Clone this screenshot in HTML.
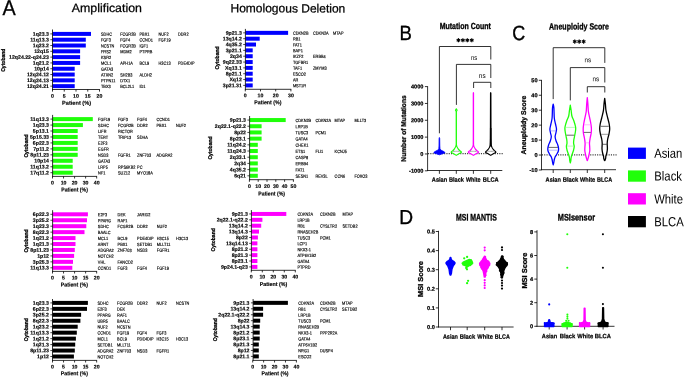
<!DOCTYPE html>
<html><head><meta charset="utf-8"><style>
html,body{margin:0;padding:0;background:#fff;overflow:hidden;width:685px;height:377px;}
svg{display:block;will-change:transform;text-rendering:geometricPrecision;}
text{font-family:"Liberation Sans", sans-serif;}
text[font-weight="bold"]{stroke:#000;stroke-width:0.22px;}
.A text{stroke:#000;stroke-width:0.15px;}
.A .g{stroke:#000;stroke-width:0.16px;}
text.r{stroke:#000;stroke-width:0.28px;}
text.t{stroke:#000;stroke-width:0.32px;}
</style></head><body>
<svg width="685" height="377" viewBox="0 0 685 377">
<rect width="685" height="377" fill="#fff"/>
<text transform="translate(2.4,14.6) scale(0.93,1)" font-size="21.3" stroke="#000" stroke-width="0.3">A</text>
<text transform="translate(71.8,12) matrix(1,0.0015,0,1,0,0)" font-size="12" text-anchor="start" fill="#000" textLength="70.1" lengthAdjust="spacingAndGlyphs" stroke="#000" stroke-width="0.25">Amplification</text>
<text transform="translate(230.5,12.3) matrix(1,0.0015,0,1,0,0)" font-size="12" text-anchor="start" fill="#000" textLength="114.8" lengthAdjust="spacingAndGlyphs" stroke="#000" stroke-width="0.25">Homologous Deletion</text>
<g class="A">
<rect x="52.5" y="31.9" width="38.5" height="4" fill="#0000ff"/>
<rect x="52.5" y="37.71" width="33.3" height="4" fill="#0000ff"/>
<rect x="52.5" y="43.51" width="33.3" height="4" fill="#0000ff"/>
<rect x="52.5" y="49.32" width="27.6" height="4" fill="#0000ff"/>
<rect x="52.5" y="55.12" width="27.6" height="4" fill="#0000ff"/>
<rect x="52.5" y="60.93" width="27.6" height="4" fill="#0000ff"/>
<rect x="52.5" y="66.74" width="22.2" height="4" fill="#0000ff"/>
<rect x="52.5" y="72.54" width="22.2" height="4" fill="#0000ff"/>
<rect x="52.5" y="78.35" width="22.2" height="4" fill="#0000ff"/>
<rect x="52.5" y="84.15" width="22.2" height="4" fill="#0000ff"/>
<line x1="52.5" y1="29.5" x2="52.5" y2="89.9" stroke="#000" stroke-width="0.8"/>
<line x1="52.1" y1="89.5" x2="99.9" y2="89.5" stroke="#000" stroke-width="0.8"/>
<line x1="52.5" y1="89.5" x2="52.5" y2="91.6" stroke="#000" stroke-width="0.8"/>
<text transform="translate(52.5,97.8) matrix(1,0.0015,0,1,0,0)" font-size="5.2" font-weight="bold" text-anchor="middle" fill="#000">0</text>
<line x1="64.25" y1="89.5" x2="64.25" y2="91.6" stroke="#000" stroke-width="0.8"/>
<text transform="translate(64.25,97.8) matrix(1,0.0015,0,1,0,0)" font-size="5.2" font-weight="bold" text-anchor="middle" fill="#000">5</text>
<line x1="76" y1="89.5" x2="76" y2="91.6" stroke="#000" stroke-width="0.8"/>
<text transform="translate(76,97.8) matrix(1,0.0015,0,1,0,0)" font-size="5.2" font-weight="bold" text-anchor="middle" fill="#000">10</text>
<line x1="87.75" y1="89.5" x2="87.75" y2="91.6" stroke="#000" stroke-width="0.8"/>
<text transform="translate(87.75,97.8) matrix(1,0.0015,0,1,0,0)" font-size="5.2" font-weight="bold" text-anchor="middle" fill="#000">15</text>
<line x1="99.5" y1="89.5" x2="99.5" y2="91.6" stroke="#000" stroke-width="0.8"/>
<text transform="translate(99.5,97.8) matrix(1,0.0015,0,1,0,0)" font-size="5.2" font-weight="bold" text-anchor="middle" fill="#000">20</text>
<line x1="50.3" y1="33.9" x2="52.5" y2="33.9" stroke="#000" stroke-width="0.7"/>
<text transform="translate(48.9,35.7) matrix(1,0.0015,0,1,0,0)" font-size="5.2" font-weight="bold" text-anchor="end" fill="#000">1q23.3</text>
<line x1="50.3" y1="39.71" x2="52.5" y2="39.71" stroke="#000" stroke-width="0.7"/>
<text transform="translate(48.9,41.51) matrix(1,0.0015,0,1,0,0)" font-size="5.2" font-weight="bold" text-anchor="end" fill="#000">11q13.3</text>
<line x1="50.3" y1="45.51" x2="52.5" y2="45.51" stroke="#000" stroke-width="0.7"/>
<text transform="translate(48.9,47.31) matrix(1,0.0015,0,1,0,0)" font-size="5.2" font-weight="bold" text-anchor="end" fill="#000">1q23.2</text>
<line x1="50.3" y1="51.32" x2="52.5" y2="51.32" stroke="#000" stroke-width="0.7"/>
<text transform="translate(48.9,53.12) matrix(1,0.0015,0,1,0,0)" font-size="5.2" font-weight="bold" text-anchor="end" fill="#000">12q15</text>
<line x1="50.3" y1="57.12" x2="52.5" y2="57.12" stroke="#000" stroke-width="0.7"/>
<text transform="translate(48.9,58.92) matrix(1,0.0015,0,1,0,0)" font-size="5.2" font-weight="bold" text-anchor="end" fill="#000">12q24.22-q24.23</text>
<line x1="50.3" y1="62.93" x2="52.5" y2="62.93" stroke="#000" stroke-width="0.7"/>
<text transform="translate(48.9,64.73) matrix(1,0.0015,0,1,0,0)" font-size="5.2" font-weight="bold" text-anchor="end" fill="#000">1q21.2</text>
<line x1="50.3" y1="68.74" x2="52.5" y2="68.74" stroke="#000" stroke-width="0.7"/>
<text transform="translate(48.9,70.54) matrix(1,0.0015,0,1,0,0)" font-size="5.2" font-weight="bold" text-anchor="end" fill="#000">10p14</text>
<line x1="50.3" y1="74.54" x2="52.5" y2="74.54" stroke="#000" stroke-width="0.7"/>
<text transform="translate(48.9,76.34) matrix(1,0.0015,0,1,0,0)" font-size="5.2" font-weight="bold" text-anchor="end" fill="#000">12q24.12</text>
<line x1="50.3" y1="80.35" x2="52.5" y2="80.35" stroke="#000" stroke-width="0.7"/>
<text transform="translate(48.9,82.15) matrix(1,0.0015,0,1,0,0)" font-size="5.2" font-weight="bold" text-anchor="end" fill="#000">12q24.13</text>
<line x1="50.3" y1="86.15" x2="52.5" y2="86.15" stroke="#000" stroke-width="0.7"/>
<text transform="translate(48.9,87.95) matrix(1,0.0015,0,1,0,0)" font-size="5.2" font-weight="bold" text-anchor="end" fill="#000">12q24.21</text>
<text transform="translate(76.55,104.8) matrix(1,0.0015,0,1,0,0)" font-size="5.6" font-weight="bold" text-anchor="middle" fill="#000" textLength="28.9" lengthAdjust="spacingAndGlyphs">Patient (%)</text>
<text transform="translate(2.8,60.2) rotate(-90)" x="0" y="1.98" font-size="5.5" font-weight="bold" text-anchor="middle" textLength="23.2" lengthAdjust="spacingAndGlyphs" class="r">Cytoband</text>
<text transform="translate(101,35.8) matrix(1,0.0015,0,1,0,0) scale(0.86,1)" font-size="4.5" fill="#000" class="g">SDHC</text>
<text transform="translate(120.2,35.8) matrix(1,0.0015,0,1,0,0) scale(0.86,1)" font-size="4.5" fill="#000" class="g">FCGR2B</text>
<text transform="translate(139.5,35.8) matrix(1,0.0015,0,1,0,0) scale(0.86,1)" font-size="4.5" fill="#000" class="g">PBX1</text>
<text transform="translate(158.5,35.8) matrix(1,0.0015,0,1,0,0) scale(0.86,1)" font-size="4.5" fill="#000" class="g">NUF2</text>
<text transform="translate(178,35.8) matrix(1,0.0015,0,1,0,0) scale(0.86,1)" font-size="4.5" fill="#000" class="g">DDR2</text>
<text transform="translate(101,41.61) matrix(1,0.0015,0,1,0,0) scale(0.86,1)" font-size="4.5" fill="#000" class="g">FGF3</text>
<text transform="translate(120.2,41.61) matrix(1,0.0015,0,1,0,0) scale(0.86,1)" font-size="4.5" fill="#000" class="g">FGF4</text>
<text transform="translate(139.5,41.61) matrix(1,0.0015,0,1,0,0) scale(0.86,1)" font-size="4.5" fill="#000" class="g">CCND1</text>
<text transform="translate(158.5,41.61) matrix(1,0.0015,0,1,0,0) scale(0.86,1)" font-size="4.5" fill="#000" class="g">FGF19</text>
<text transform="translate(101,47.41) matrix(1,0.0015,0,1,0,0) scale(0.86,1)" font-size="4.5" fill="#000" class="g">NCSTN</text>
<text transform="translate(120.2,47.41) matrix(1,0.0015,0,1,0,0) scale(0.86,1)" font-size="4.5" fill="#000" class="g">FCGR2B</text>
<text transform="translate(139.5,47.41) matrix(1,0.0015,0,1,0,0) scale(0.86,1)" font-size="4.5" fill="#000" class="g">IGF1</text>
<text transform="translate(101,53.22) matrix(1,0.0015,0,1,0,0) scale(0.86,1)" font-size="4.5" fill="#000" class="g">FRS2</text>
<text transform="translate(120.2,53.22) matrix(1,0.0015,0,1,0,0) scale(0.86,1)" font-size="4.5" fill="#000" class="g">MDM2</text>
<text transform="translate(139.5,53.22) matrix(1,0.0015,0,1,0,0) scale(0.86,1)" font-size="4.5" fill="#000" class="g">PTPRB</text>
<text transform="translate(101,59.02) matrix(1,0.0015,0,1,0,0) scale(0.86,1)" font-size="4.5" fill="#000" class="g">KSR2</text>
<text transform="translate(101,64.83) matrix(1,0.0015,0,1,0,0) scale(0.86,1)" font-size="4.5" fill="#000" class="g">MCL1</text>
<text transform="translate(120.2,64.83) matrix(1,0.0015,0,1,0,0) scale(0.86,1)" font-size="4.5" fill="#000" class="g">APH1A</text>
<text transform="translate(139.5,64.83) matrix(1,0.0015,0,1,0,0) scale(0.86,1)" font-size="4.5" fill="#000" class="g">BCL9</text>
<text transform="translate(158.5,64.83) matrix(1,0.0015,0,1,0,0) scale(0.86,1)" font-size="4.5" fill="#000" class="g">H3C13</text>
<text transform="translate(178,64.83) matrix(1,0.0015,0,1,0,0) scale(0.86,1)" font-size="4.5" fill="#000" class="g">PDE4DIP</text>
<text transform="translate(101,70.64) matrix(1,0.0015,0,1,0,0) scale(0.86,1)" font-size="4.5" fill="#000" class="g">GATA3</text>
<text transform="translate(101,76.44) matrix(1,0.0015,0,1,0,0) scale(0.86,1)" font-size="4.5" fill="#000" class="g">ATXN2</text>
<text transform="translate(120.2,76.44) matrix(1,0.0015,0,1,0,0) scale(0.86,1)" font-size="4.5" fill="#000" class="g">SH2B3</text>
<text transform="translate(139.5,76.44) matrix(1,0.0015,0,1,0,0) scale(0.86,1)" font-size="4.5" fill="#000" class="g">ALDH2</text>
<text transform="translate(101,82.25) matrix(1,0.0015,0,1,0,0) scale(0.86,1)" font-size="4.5" fill="#000" class="g">PTPN11</text>
<text transform="translate(120.2,82.25) matrix(1,0.0015,0,1,0,0) scale(0.86,1)" font-size="4.5" fill="#000" class="g">DTX1</text>
<text transform="translate(101,88.05) matrix(1,0.0015,0,1,0,0) scale(0.86,1)" font-size="4.5" fill="#000" class="g">TBX3</text>
<text transform="translate(120.2,88.05) matrix(1,0.0015,0,1,0,0) scale(0.86,1)" font-size="4.5" fill="#000" class="g">BCL2L1</text>
<text transform="translate(139.5,88.05) matrix(1,0.0015,0,1,0,0) scale(0.86,1)" font-size="4.5" fill="#000" class="g">ID1</text>
</g>
<g class="A">
<rect x="245.4" y="30.85" width="42.7" height="4" fill="#0000ff"/>
<rect x="245.4" y="36.69" width="14.3" height="4" fill="#0000ff"/>
<rect x="245.4" y="42.53" width="10.6" height="4" fill="#0000ff"/>
<rect x="245.4" y="48.37" width="7.3" height="4" fill="#0000ff"/>
<rect x="245.4" y="54.21" width="7.3" height="4" fill="#0000ff"/>
<rect x="245.4" y="60.05" width="7.3" height="4" fill="#0000ff"/>
<rect x="245.4" y="65.88" width="7.3" height="4" fill="#0000ff"/>
<rect x="245.4" y="71.72" width="7.3" height="4" fill="#0000ff"/>
<rect x="245.4" y="77.56" width="7.3" height="4" fill="#0000ff"/>
<rect x="245.4" y="83.4" width="7.3" height="4" fill="#0000ff"/>
<line x1="245.4" y1="28.9" x2="245.4" y2="89.7" stroke="#000" stroke-width="0.8"/>
<line x1="245" y1="89.3" x2="291.3" y2="89.3" stroke="#000" stroke-width="0.8"/>
<line x1="245.3" y1="89.3" x2="245.3" y2="91.4" stroke="#000" stroke-width="0.8"/>
<text transform="translate(245.3,97.2) matrix(1,0.0015,0,1,0,0)" font-size="5.2" font-weight="bold" text-anchor="middle" fill="#000">0</text>
<line x1="260.5" y1="89.3" x2="260.5" y2="91.4" stroke="#000" stroke-width="0.8"/>
<text transform="translate(260.5,97.2) matrix(1,0.0015,0,1,0,0)" font-size="5.2" font-weight="bold" text-anchor="middle" fill="#000">10</text>
<line x1="275.7" y1="89.3" x2="275.7" y2="91.4" stroke="#000" stroke-width="0.8"/>
<text transform="translate(275.7,97.2) matrix(1,0.0015,0,1,0,0)" font-size="5.2" font-weight="bold" text-anchor="middle" fill="#000">20</text>
<line x1="290.9" y1="89.3" x2="290.9" y2="91.4" stroke="#000" stroke-width="0.8"/>
<text transform="translate(290.9,97.2) matrix(1,0.0015,0,1,0,0)" font-size="5.2" font-weight="bold" text-anchor="middle" fill="#000">30</text>
<line x1="243.2" y1="32.85" x2="245.4" y2="32.85" stroke="#000" stroke-width="0.7"/>
<text transform="translate(241.8,34.65) matrix(1,0.0015,0,1,0,0)" font-size="5.2" font-weight="bold" text-anchor="end" fill="#000">9p21.3</text>
<line x1="243.2" y1="38.69" x2="245.4" y2="38.69" stroke="#000" stroke-width="0.7"/>
<text transform="translate(241.8,40.49) matrix(1,0.0015,0,1,0,0)" font-size="5.2" font-weight="bold" text-anchor="end" fill="#000">13q14.2</text>
<line x1="243.2" y1="44.53" x2="245.4" y2="44.53" stroke="#000" stroke-width="0.7"/>
<text transform="translate(241.8,46.33) matrix(1,0.0015,0,1,0,0)" font-size="5.2" font-weight="bold" text-anchor="end" fill="#000">4q35.2</text>
<line x1="243.2" y1="50.37" x2="245.4" y2="50.37" stroke="#000" stroke-width="0.7"/>
<text transform="translate(241.8,52.17) matrix(1,0.0015,0,1,0,0)" font-size="5.2" font-weight="bold" text-anchor="end" fill="#000">3p21.1</text>
<line x1="243.2" y1="56.21" x2="245.4" y2="56.21" stroke="#000" stroke-width="0.7"/>
<text transform="translate(241.8,58.01) matrix(1,0.0015,0,1,0,0)" font-size="5.2" font-weight="bold" text-anchor="end" fill="#000">2q34</text>
<line x1="243.2" y1="62.05" x2="245.4" y2="62.05" stroke="#000" stroke-width="0.7"/>
<text transform="translate(241.8,63.84) matrix(1,0.0015,0,1,0,0)" font-size="5.2" font-weight="bold" text-anchor="end" fill="#000">9q22.33</text>
<line x1="243.2" y1="67.88" x2="245.4" y2="67.88" stroke="#000" stroke-width="0.7"/>
<text transform="translate(241.8,69.68) matrix(1,0.0015,0,1,0,0)" font-size="5.2" font-weight="bold" text-anchor="end" fill="#000">Xq13.1</text>
<line x1="243.2" y1="73.72" x2="245.4" y2="73.72" stroke="#000" stroke-width="0.7"/>
<text transform="translate(241.8,75.52) matrix(1,0.0015,0,1,0,0)" font-size="5.2" font-weight="bold" text-anchor="end" fill="#000">8p21.1</text>
<line x1="243.2" y1="79.56" x2="245.4" y2="79.56" stroke="#000" stroke-width="0.7"/>
<text transform="translate(241.8,81.36) matrix(1,0.0015,0,1,0,0)" font-size="5.2" font-weight="bold" text-anchor="end" fill="#000">Xq12</text>
<line x1="243.2" y1="85.4" x2="245.4" y2="85.4" stroke="#000" stroke-width="0.7"/>
<text transform="translate(241.8,87.2) matrix(1,0.0015,0,1,0,0)" font-size="5.2" font-weight="bold" text-anchor="end" fill="#000">3p21.31</text>
<text transform="translate(267.85,104.3) matrix(1,0.0015,0,1,0,0)" font-size="5.6" font-weight="bold" text-anchor="middle" fill="#000" textLength="27.3" lengthAdjust="spacingAndGlyphs">Patient (%)</text>
<text transform="translate(216.6,58) rotate(-90)" x="0" y="1.98" font-size="5.5" font-weight="bold" text-anchor="middle" textLength="23.2" lengthAdjust="spacingAndGlyphs" class="r">Cytoband</text>
<text transform="translate(292.9,34.75) matrix(1,0.0015,0,1,0,0) scale(0.86,1)" font-size="4.5" fill="#000" class="g">CDKN2B</text>
<text transform="translate(313,34.75) matrix(1,0.0015,0,1,0,0) scale(0.86,1)" font-size="4.5" fill="#000" class="g">CDKN2A</text>
<text transform="translate(333,34.75) matrix(1,0.0015,0,1,0,0) scale(0.86,1)" font-size="4.5" fill="#000" class="g">MTAP</text>
<text transform="translate(292.9,40.59) matrix(1,0.0015,0,1,0,0) scale(0.86,1)" font-size="4.5" fill="#000" class="g">RB1</text>
<text transform="translate(292.9,46.43) matrix(1,0.0015,0,1,0,0) scale(0.86,1)" font-size="4.5" fill="#000" class="g">FAT1</text>
<text transform="translate(292.9,52.27) matrix(1,0.0015,0,1,0,0) scale(0.86,1)" font-size="4.5" fill="#000" class="g">BAP1</text>
<text transform="translate(292.9,58.11) matrix(1,0.0015,0,1,0,0) scale(0.86,1)" font-size="4.5" fill="#000" class="g">IKZF2</text>
<text transform="translate(313,58.11) matrix(1,0.0015,0,1,0,0) scale(0.86,1)" font-size="4.5" fill="#000" class="g">ERBB4</text>
<text transform="translate(292.9,63.95) matrix(1,0.0015,0,1,0,0) scale(0.86,1)" font-size="4.5" fill="#000" class="g">TGFBR1</text>
<text transform="translate(292.9,69.78) matrix(1,0.0015,0,1,0,0) scale(0.86,1)" font-size="4.5" fill="#000" class="g">TAF1</text>
<text transform="translate(313,69.78) matrix(1,0.0015,0,1,0,0) scale(0.86,1)" font-size="4.5" fill="#000" class="g">ZMYM3</text>
<text transform="translate(292.9,75.62) matrix(1,0.0015,0,1,0,0) scale(0.86,1)" font-size="4.5" fill="#000" class="g">ESCO2</text>
<text transform="translate(292.9,81.46) matrix(1,0.0015,0,1,0,0) scale(0.86,1)" font-size="4.5" fill="#000" class="g">AR</text>
<text transform="translate(292.9,87.3) matrix(1,0.0015,0,1,0,0) scale(0.86,1)" font-size="4.5" fill="#000" class="g">MST1R</text>
</g>
<g class="A">
<rect x="52.6" y="117.1" width="40.2" height="4" fill="#20ff0a"/>
<rect x="52.6" y="123.06" width="30.3" height="4" fill="#20ff0a"/>
<rect x="52.6" y="129.01" width="25.1" height="4" fill="#20ff0a"/>
<rect x="52.6" y="134.97" width="25.1" height="4" fill="#20ff0a"/>
<rect x="52.6" y="140.92" width="25.1" height="4" fill="#20ff0a"/>
<rect x="52.6" y="146.88" width="25.1" height="4" fill="#20ff0a"/>
<rect x="52.6" y="152.84" width="25.1" height="4" fill="#20ff0a"/>
<rect x="52.6" y="158.79" width="20.1" height="4" fill="#20ff0a"/>
<rect x="52.6" y="164.75" width="20.1" height="4" fill="#20ff0a"/>
<rect x="52.6" y="170.7" width="20.1" height="4" fill="#20ff0a"/>
<line x1="52.6" y1="114.9" x2="52.6" y2="176.8" stroke="#000" stroke-width="0.8"/>
<line x1="52.2" y1="176.4" x2="97.06" y2="176.4" stroke="#000" stroke-width="0.8"/>
<line x1="52.5" y1="176.4" x2="52.5" y2="178.5" stroke="#000" stroke-width="0.8"/>
<text transform="translate(52.5,184.6) matrix(1,0.0015,0,1,0,0)" font-size="5.2" font-weight="bold" text-anchor="middle" fill="#000">0</text>
<line x1="63.54" y1="176.4" x2="63.54" y2="178.5" stroke="#000" stroke-width="0.8"/>
<text transform="translate(63.54,184.6) matrix(1,0.0015,0,1,0,0)" font-size="5.2" font-weight="bold" text-anchor="middle" fill="#000">10</text>
<line x1="74.58" y1="176.4" x2="74.58" y2="178.5" stroke="#000" stroke-width="0.8"/>
<text transform="translate(74.58,184.6) matrix(1,0.0015,0,1,0,0)" font-size="5.2" font-weight="bold" text-anchor="middle" fill="#000">20</text>
<line x1="85.62" y1="176.4" x2="85.62" y2="178.5" stroke="#000" stroke-width="0.8"/>
<text transform="translate(85.62,184.6) matrix(1,0.0015,0,1,0,0)" font-size="5.2" font-weight="bold" text-anchor="middle" fill="#000">30</text>
<line x1="96.66" y1="176.4" x2="96.66" y2="178.5" stroke="#000" stroke-width="0.8"/>
<text transform="translate(96.66,184.6) matrix(1,0.0015,0,1,0,0)" font-size="5.2" font-weight="bold" text-anchor="middle" fill="#000">40</text>
<line x1="50.4" y1="119.1" x2="52.6" y2="119.1" stroke="#000" stroke-width="0.7"/>
<text transform="translate(49,120.9) matrix(1,0.0015,0,1,0,0)" font-size="5.2" font-weight="bold" text-anchor="end" fill="#000">11q13.3</text>
<line x1="50.4" y1="125.06" x2="52.6" y2="125.06" stroke="#000" stroke-width="0.7"/>
<text transform="translate(49,126.86) matrix(1,0.0015,0,1,0,0)" font-size="5.2" font-weight="bold" text-anchor="end" fill="#000">1q23.3</text>
<line x1="50.4" y1="131.01" x2="52.6" y2="131.01" stroke="#000" stroke-width="0.7"/>
<text transform="translate(49,132.81) matrix(1,0.0015,0,1,0,0)" font-size="5.2" font-weight="bold" text-anchor="end" fill="#000">5p13.1</text>
<line x1="50.4" y1="136.97" x2="52.6" y2="136.97" stroke="#000" stroke-width="0.7"/>
<text transform="translate(49,138.77) matrix(1,0.0015,0,1,0,0)" font-size="5.2" font-weight="bold" text-anchor="end" fill="#000">5p15.33</text>
<line x1="50.4" y1="142.92" x2="52.6" y2="142.92" stroke="#000" stroke-width="0.7"/>
<text transform="translate(49,144.72) matrix(1,0.0015,0,1,0,0)" font-size="5.2" font-weight="bold" text-anchor="end" fill="#000">6p22.3</text>
<line x1="50.4" y1="148.88" x2="52.6" y2="148.88" stroke="#000" stroke-width="0.7"/>
<text transform="translate(49,150.68) matrix(1,0.0015,0,1,0,0)" font-size="5.2" font-weight="bold" text-anchor="end" fill="#000">7p11.2</text>
<line x1="50.4" y1="154.84" x2="52.6" y2="154.84" stroke="#000" stroke-width="0.7"/>
<text transform="translate(49,156.64) matrix(1,0.0015,0,1,0,0)" font-size="5.2" font-weight="bold" text-anchor="end" fill="#000">8p11.23</text>
<line x1="50.4" y1="160.79" x2="52.6" y2="160.79" stroke="#000" stroke-width="0.7"/>
<text transform="translate(49,162.59) matrix(1,0.0015,0,1,0,0)" font-size="5.2" font-weight="bold" text-anchor="end" fill="#000">10p14</text>
<line x1="50.4" y1="166.75" x2="52.6" y2="166.75" stroke="#000" stroke-width="0.7"/>
<text transform="translate(49,168.55) matrix(1,0.0015,0,1,0,0)" font-size="5.2" font-weight="bold" text-anchor="end" fill="#000">11q13.2</text>
<line x1="50.4" y1="172.7" x2="52.6" y2="172.7" stroke="#000" stroke-width="0.7"/>
<text transform="translate(49,174.5) matrix(1,0.0015,0,1,0,0)" font-size="5.2" font-weight="bold" text-anchor="end" fill="#000">17q11.2</text>
<text transform="translate(74.55,191.6) matrix(1,0.0015,0,1,0,0)" font-size="5.6" font-weight="bold" text-anchor="middle" fill="#000" textLength="26.7" lengthAdjust="spacingAndGlyphs">Patient (%)</text>
<text transform="translate(25.7,146) rotate(-90)" x="0" y="1.98" font-size="5.5" font-weight="bold" text-anchor="middle" textLength="23.2" lengthAdjust="spacingAndGlyphs" class="r">Cytoband</text>
<text transform="translate(98.1,121) matrix(1,0.0015,0,1,0,0) scale(0.86,1)" font-size="4.5" fill="#000" class="g">FGF19</text>
<text transform="translate(118,121) matrix(1,0.0015,0,1,0,0) scale(0.86,1)" font-size="4.5" fill="#000" class="g">FGF3</text>
<text transform="translate(137.1,121) matrix(1,0.0015,0,1,0,0) scale(0.86,1)" font-size="4.5" fill="#000" class="g">FGF4</text>
<text transform="translate(156.5,121) matrix(1,0.0015,0,1,0,0) scale(0.86,1)" font-size="4.5" fill="#000" class="g">CCND1</text>
<text transform="translate(98.1,126.96) matrix(1,0.0015,0,1,0,0) scale(0.86,1)" font-size="4.5" fill="#000" class="g">SDHC</text>
<text transform="translate(118,126.96) matrix(1,0.0015,0,1,0,0) scale(0.86,1)" font-size="4.5" fill="#000" class="g">FCGR2B</text>
<text transform="translate(137.1,126.96) matrix(1,0.0015,0,1,0,0) scale(0.86,1)" font-size="4.5" fill="#000" class="g">DDR2</text>
<text transform="translate(156.5,126.96) matrix(1,0.0015,0,1,0,0) scale(0.86,1)" font-size="4.5" fill="#000" class="g">PBX1</text>
<text transform="translate(175.9,126.96) matrix(1,0.0015,0,1,0,0) scale(0.86,1)" font-size="4.5" fill="#000" class="g">NUF2</text>
<text transform="translate(98.1,132.91) matrix(1,0.0015,0,1,0,0) scale(0.86,1)" font-size="4.5" fill="#000" class="g">LIFR</text>
<text transform="translate(118,132.91) matrix(1,0.0015,0,1,0,0) scale(0.86,1)" font-size="4.5" fill="#000" class="g">RICTOR</text>
<text transform="translate(98.1,138.87) matrix(1,0.0015,0,1,0,0) scale(0.86,1)" font-size="4.5" fill="#000" class="g">TERT</text>
<text transform="translate(118,138.87) matrix(1,0.0015,0,1,0,0) scale(0.86,1)" font-size="4.5" fill="#000" class="g">TRIP13</text>
<text transform="translate(137.1,138.87) matrix(1,0.0015,0,1,0,0) scale(0.86,1)" font-size="4.5" fill="#000" class="g">SDHA</text>
<text transform="translate(98.1,144.82) matrix(1,0.0015,0,1,0,0) scale(0.86,1)" font-size="4.5" fill="#000" class="g">E2F3</text>
<text transform="translate(98.1,150.78) matrix(1,0.0015,0,1,0,0) scale(0.86,1)" font-size="4.5" fill="#000" class="g">EGFR</text>
<text transform="translate(98.1,156.74) matrix(1,0.0015,0,1,0,0) scale(0.86,1)" font-size="4.5" fill="#000" class="g">NSD3</text>
<text transform="translate(118,156.74) matrix(1,0.0015,0,1,0,0) scale(0.86,1)" font-size="4.5" fill="#000" class="g">FGFR1</text>
<text transform="translate(137.1,156.74) matrix(1,0.0015,0,1,0,0) scale(0.86,1)" font-size="4.5" fill="#000" class="g">ZNF703</text>
<text transform="translate(156.5,156.74) matrix(1,0.0015,0,1,0,0) scale(0.86,1)" font-size="4.5" fill="#000" class="g">ADGRA2</text>
<text transform="translate(98.1,162.69) matrix(1,0.0015,0,1,0,0) scale(0.86,1)" font-size="4.5" fill="#000" class="g">GATA3</text>
<text transform="translate(98.1,168.65) matrix(1,0.0015,0,1,0,0) scale(0.86,1)" font-size="4.5" fill="#000" class="g">LRP5</text>
<text transform="translate(118,168.65) matrix(1,0.0015,0,1,0,0) scale(0.86,1)" font-size="4.5" fill="#000" class="g">RPS6KB2</text>
<text transform="translate(137.1,168.65) matrix(1,0.0015,0,1,0,0) scale(0.86,1)" font-size="4.5" fill="#000" class="g">PC</text>
<text transform="translate(98.1,174.6) matrix(1,0.0015,0,1,0,0) scale(0.86,1)" font-size="4.5" fill="#000" class="g">NF1</text>
<text transform="translate(118,174.6) matrix(1,0.0015,0,1,0,0) scale(0.86,1)" font-size="4.5" fill="#000" class="g">SUZ12</text>
<text transform="translate(137.1,174.6) matrix(1,0.0015,0,1,0,0) scale(0.86,1)" font-size="4.5" fill="#000" class="g">MYO18A</text>
</g>
<g class="A">
<rect x="249.6" y="118.05" width="36.1" height="4" fill="#20ff0a"/>
<rect x="249.6" y="124.24" width="12" height="4" fill="#20ff0a"/>
<rect x="249.6" y="130.44" width="12" height="4" fill="#20ff0a"/>
<rect x="249.6" y="136.63" width="12" height="4" fill="#20ff0a"/>
<rect x="249.6" y="142.83" width="8.2" height="4" fill="#20ff0a"/>
<rect x="249.6" y="149.02" width="8.2" height="4" fill="#20ff0a"/>
<rect x="249.6" y="155.21" width="8.2" height="4" fill="#20ff0a"/>
<rect x="249.6" y="161.41" width="8.2" height="4" fill="#20ff0a"/>
<rect x="249.6" y="167.6" width="8.2" height="4" fill="#20ff0a"/>
<rect x="249.6" y="173.8" width="8.2" height="4" fill="#20ff0a"/>
<line x1="249.6" y1="116" x2="249.6" y2="180.1" stroke="#000" stroke-width="0.8"/>
<line x1="249.2" y1="179.7" x2="293.8" y2="179.7" stroke="#000" stroke-width="0.8"/>
<line x1="249.4" y1="179.7" x2="249.4" y2="181.8" stroke="#000" stroke-width="0.8"/>
<text transform="translate(249.4,188) matrix(1,0.0015,0,1,0,0)" font-size="5.2" font-weight="bold" text-anchor="middle" fill="#000">0</text>
<line x1="258.2" y1="179.7" x2="258.2" y2="181.8" stroke="#000" stroke-width="0.8"/>
<text transform="translate(258.2,188) matrix(1,0.0015,0,1,0,0)" font-size="5.2" font-weight="bold" text-anchor="middle" fill="#000">10</text>
<line x1="267" y1="179.7" x2="267" y2="181.8" stroke="#000" stroke-width="0.8"/>
<text transform="translate(267,188) matrix(1,0.0015,0,1,0,0)" font-size="5.2" font-weight="bold" text-anchor="middle" fill="#000">20</text>
<line x1="275.8" y1="179.7" x2="275.8" y2="181.8" stroke="#000" stroke-width="0.8"/>
<text transform="translate(275.8,188) matrix(1,0.0015,0,1,0,0)" font-size="5.2" font-weight="bold" text-anchor="middle" fill="#000">30</text>
<line x1="284.6" y1="179.7" x2="284.6" y2="181.8" stroke="#000" stroke-width="0.8"/>
<text transform="translate(284.6,188) matrix(1,0.0015,0,1,0,0)" font-size="5.2" font-weight="bold" text-anchor="middle" fill="#000">40</text>
<line x1="293.4" y1="179.7" x2="293.4" y2="181.8" stroke="#000" stroke-width="0.8"/>
<text transform="translate(293.4,188) matrix(1,0.0015,0,1,0,0)" font-size="5.2" font-weight="bold" text-anchor="middle" fill="#000">50</text>
<line x1="247.4" y1="120.05" x2="249.6" y2="120.05" stroke="#000" stroke-width="0.7"/>
<text transform="translate(246,121.85) matrix(1,0.0015,0,1,0,0)" font-size="5.2" font-weight="bold" text-anchor="end" fill="#000">9p21.3</text>
<line x1="247.4" y1="126.24" x2="249.6" y2="126.24" stroke="#000" stroke-width="0.7"/>
<text transform="translate(246,128.04) matrix(1,0.0015,0,1,0,0)" font-size="5.2" font-weight="bold" text-anchor="end" fill="#000">2q22.1-q22.2</text>
<line x1="247.4" y1="132.44" x2="249.6" y2="132.44" stroke="#000" stroke-width="0.7"/>
<text transform="translate(246,134.24) matrix(1,0.0015,0,1,0,0)" font-size="5.2" font-weight="bold" text-anchor="end" fill="#000">8p22</text>
<line x1="247.4" y1="138.63" x2="249.6" y2="138.63" stroke="#000" stroke-width="0.7"/>
<text transform="translate(246,140.43) matrix(1,0.0015,0,1,0,0)" font-size="5.2" font-weight="bold" text-anchor="end" fill="#000">8p23.1</text>
<line x1="247.4" y1="144.83" x2="249.6" y2="144.83" stroke="#000" stroke-width="0.7"/>
<text transform="translate(246,146.63) matrix(1,0.0015,0,1,0,0)" font-size="5.2" font-weight="bold" text-anchor="end" fill="#000">11q24.2</text>
<line x1="247.4" y1="151.02" x2="249.6" y2="151.02" stroke="#000" stroke-width="0.7"/>
<text transform="translate(246,152.82) matrix(1,0.0015,0,1,0,0)" font-size="5.2" font-weight="bold" text-anchor="end" fill="#000">11q24.3</text>
<line x1="247.4" y1="157.21" x2="249.6" y2="157.21" stroke="#000" stroke-width="0.7"/>
<text transform="translate(246,159.01) matrix(1,0.0015,0,1,0,0)" font-size="5.2" font-weight="bold" text-anchor="end" fill="#000">2q33.1</text>
<line x1="247.4" y1="163.41" x2="249.6" y2="163.41" stroke="#000" stroke-width="0.7"/>
<text transform="translate(246,165.21) matrix(1,0.0015,0,1,0,0)" font-size="5.2" font-weight="bold" text-anchor="end" fill="#000">2q34</text>
<line x1="247.4" y1="169.6" x2="249.6" y2="169.6" stroke="#000" stroke-width="0.7"/>
<text transform="translate(246,171.4) matrix(1,0.0015,0,1,0,0)" font-size="5.2" font-weight="bold" text-anchor="end" fill="#000">4q35.2</text>
<line x1="247.4" y1="175.8" x2="249.6" y2="175.8" stroke="#000" stroke-width="0.7"/>
<text transform="translate(246,177.6) matrix(1,0.0015,0,1,0,0)" font-size="5.2" font-weight="bold" text-anchor="end" fill="#000">6q21</text>
<text transform="translate(271.65,195.6) matrix(1,0.0015,0,1,0,0)" font-size="5.6" font-weight="bold" text-anchor="middle" fill="#000" textLength="26.7" lengthAdjust="spacingAndGlyphs">Patient (%)</text>
<text transform="translate(209.8,148) rotate(-90)" x="0" y="1.98" font-size="5.5" font-weight="bold" text-anchor="middle" textLength="23.2" lengthAdjust="spacingAndGlyphs" class="r">Cytoband</text>
<text transform="translate(295.5,121.95) matrix(1,0.0015,0,1,0,0) scale(0.86,1)" font-size="4.5" fill="#000" class="g">CDKN2B</text>
<text transform="translate(315.4,121.95) matrix(1,0.0015,0,1,0,0) scale(0.86,1)" font-size="4.5" fill="#000" class="g">CDKN2A</text>
<text transform="translate(334.6,121.95) matrix(1,0.0015,0,1,0,0) scale(0.86,1)" font-size="4.5" fill="#000" class="g">MTAP</text>
<text transform="translate(354.4,121.95) matrix(1,0.0015,0,1,0,0) scale(0.86,1)" font-size="4.5" fill="#000" class="g">MLLT3</text>
<text transform="translate(295.5,128.14) matrix(1,0.0015,0,1,0,0) scale(0.86,1)" font-size="4.5" fill="#000" class="g">LRP1B</text>
<text transform="translate(295.5,134.34) matrix(1,0.0015,0,1,0,0) scale(0.86,1)" font-size="4.5" fill="#000" class="g">TUSC3</text>
<text transform="translate(315.4,134.34) matrix(1,0.0015,0,1,0,0) scale(0.86,1)" font-size="4.5" fill="#000" class="g">PCM1</text>
<text transform="translate(295.5,140.53) matrix(1,0.0015,0,1,0,0) scale(0.86,1)" font-size="4.5" fill="#000" class="g">GATA4</text>
<text transform="translate(295.5,146.73) matrix(1,0.0015,0,1,0,0) scale(0.86,1)" font-size="4.5" fill="#000" class="g">CHEK1</text>
<text transform="translate(295.5,152.92) matrix(1,0.0015,0,1,0,0) scale(0.86,1)" font-size="4.5" fill="#000" class="g">ETS1</text>
<text transform="translate(315.4,152.92) matrix(1,0.0015,0,1,0,0) scale(0.86,1)" font-size="4.5" fill="#000" class="g">FLI1</text>
<text transform="translate(334.6,152.92) matrix(1,0.0015,0,1,0,0) scale(0.86,1)" font-size="4.5" fill="#000" class="g">KCNJ5</text>
<text transform="translate(295.5,159.11) matrix(1,0.0015,0,1,0,0) scale(0.86,1)" font-size="4.5" fill="#000" class="g">CASP8</text>
<text transform="translate(295.5,165.31) matrix(1,0.0015,0,1,0,0) scale(0.86,1)" font-size="4.5" fill="#000" class="g">ERBB4</text>
<text transform="translate(295.5,171.5) matrix(1,0.0015,0,1,0,0) scale(0.86,1)" font-size="4.5" fill="#000" class="g">FAT1</text>
<text transform="translate(295.5,177.7) matrix(1,0.0015,0,1,0,0) scale(0.86,1)" font-size="4.5" fill="#000" class="g">SESN1</text>
<text transform="translate(315.4,177.7) matrix(1,0.0015,0,1,0,0) scale(0.86,1)" font-size="4.5" fill="#000" class="g">REV3L</text>
<text transform="translate(334.6,177.7) matrix(1,0.0015,0,1,0,0) scale(0.86,1)" font-size="4.5" fill="#000" class="g">CCN6</text>
<text transform="translate(354.4,177.7) matrix(1,0.0015,0,1,0,0) scale(0.86,1)" font-size="4.5" fill="#000" class="g">FOXO3</text>
</g>
<g class="A">
<rect x="52.6" y="212.3" width="35.3" height="4" fill="#ff00ff"/>
<rect x="52.6" y="218.24" width="34.4" height="4" fill="#ff00ff"/>
<rect x="52.6" y="224.19" width="33.7" height="4" fill="#ff00ff"/>
<rect x="52.6" y="230.13" width="31.9" height="4" fill="#ff00ff"/>
<rect x="52.6" y="236.08" width="22.9" height="4" fill="#ff00ff"/>
<rect x="52.6" y="242.02" width="22.9" height="4" fill="#ff00ff"/>
<rect x="52.6" y="247.96" width="22.2" height="4" fill="#ff00ff"/>
<rect x="52.6" y="253.91" width="21.5" height="4" fill="#ff00ff"/>
<rect x="52.6" y="259.85" width="20.4" height="4" fill="#ff00ff"/>
<rect x="52.6" y="265.8" width="19.7" height="4" fill="#ff00ff"/>
<line x1="52.6" y1="210.2" x2="52.6" y2="271.8" stroke="#000" stroke-width="0.8"/>
<line x1="52.2" y1="271.4" x2="97.06" y2="271.4" stroke="#000" stroke-width="0.8"/>
<line x1="52.5" y1="271.4" x2="52.5" y2="273.5" stroke="#000" stroke-width="0.8"/>
<text transform="translate(52.5,279.6) matrix(1,0.0015,0,1,0,0)" font-size="5.2" font-weight="bold" text-anchor="middle" fill="#000">0</text>
<line x1="63.54" y1="271.4" x2="63.54" y2="273.5" stroke="#000" stroke-width="0.8"/>
<text transform="translate(63.54,279.6) matrix(1,0.0015,0,1,0,0)" font-size="5.2" font-weight="bold" text-anchor="middle" fill="#000">5</text>
<line x1="74.58" y1="271.4" x2="74.58" y2="273.5" stroke="#000" stroke-width="0.8"/>
<text transform="translate(74.58,279.6) matrix(1,0.0015,0,1,0,0)" font-size="5.2" font-weight="bold" text-anchor="middle" fill="#000">10</text>
<line x1="85.62" y1="271.4" x2="85.62" y2="273.5" stroke="#000" stroke-width="0.8"/>
<text transform="translate(85.62,279.6) matrix(1,0.0015,0,1,0,0)" font-size="5.2" font-weight="bold" text-anchor="middle" fill="#000">15</text>
<line x1="96.66" y1="271.4" x2="96.66" y2="273.5" stroke="#000" stroke-width="0.8"/>
<text transform="translate(96.66,279.6) matrix(1,0.0015,0,1,0,0)" font-size="5.2" font-weight="bold" text-anchor="middle" fill="#000">20</text>
<line x1="50.4" y1="214.3" x2="52.6" y2="214.3" stroke="#000" stroke-width="0.7"/>
<text transform="translate(49,216.1) matrix(1,0.0015,0,1,0,0)" font-size="5.2" font-weight="bold" text-anchor="end" fill="#000">6p22.3</text>
<line x1="50.4" y1="220.24" x2="52.6" y2="220.24" stroke="#000" stroke-width="0.7"/>
<text transform="translate(49,222.04) matrix(1,0.0015,0,1,0,0)" font-size="5.2" font-weight="bold" text-anchor="end" fill="#000">3p25.2</text>
<line x1="50.4" y1="226.19" x2="52.6" y2="226.19" stroke="#000" stroke-width="0.7"/>
<text transform="translate(49,227.99) matrix(1,0.0015,0,1,0,0)" font-size="5.2" font-weight="bold" text-anchor="end" fill="#000">1q23.3</text>
<line x1="50.4" y1="232.13" x2="52.6" y2="232.13" stroke="#000" stroke-width="0.7"/>
<text transform="translate(49,233.93) matrix(1,0.0015,0,1,0,0)" font-size="5.2" font-weight="bold" text-anchor="end" fill="#000">8q22.3</text>
<line x1="50.4" y1="238.08" x2="52.6" y2="238.08" stroke="#000" stroke-width="0.7"/>
<text transform="translate(49,239.88) matrix(1,0.0015,0,1,0,0)" font-size="5.2" font-weight="bold" text-anchor="end" fill="#000">1q21.2</text>
<line x1="50.4" y1="244.02" x2="52.6" y2="244.02" stroke="#000" stroke-width="0.7"/>
<text transform="translate(49,245.82) matrix(1,0.0015,0,1,0,0)" font-size="5.2" font-weight="bold" text-anchor="end" fill="#000">1q21.3</text>
<line x1="50.4" y1="249.96" x2="52.6" y2="249.96" stroke="#000" stroke-width="0.7"/>
<text transform="translate(49,251.76) matrix(1,0.0015,0,1,0,0)" font-size="5.2" font-weight="bold" text-anchor="end" fill="#000">8p11.23</text>
<line x1="50.4" y1="255.91" x2="52.6" y2="255.91" stroke="#000" stroke-width="0.7"/>
<text transform="translate(49,257.71) matrix(1,0.0015,0,1,0,0)" font-size="5.2" font-weight="bold" text-anchor="end" fill="#000">1p12</text>
<line x1="50.4" y1="261.85" x2="52.6" y2="261.85" stroke="#000" stroke-width="0.7"/>
<text transform="translate(49,263.65) matrix(1,0.0015,0,1,0,0)" font-size="5.2" font-weight="bold" text-anchor="end" fill="#000">3p25.3</text>
<line x1="50.4" y1="267.8" x2="52.6" y2="267.8" stroke="#000" stroke-width="0.7"/>
<text transform="translate(49,269.6) matrix(1,0.0015,0,1,0,0)" font-size="5.2" font-weight="bold" text-anchor="end" fill="#000">11q13.3</text>
<text transform="translate(74.35,286.6) matrix(1,0.0015,0,1,0,0)" font-size="5.6" font-weight="bold" text-anchor="middle" fill="#000" textLength="27.1" lengthAdjust="spacingAndGlyphs">Patient (%)</text>
<text transform="translate(25.7,241) rotate(-90)" x="0" y="1.98" font-size="5.5" font-weight="bold" text-anchor="middle" textLength="23.2" lengthAdjust="spacingAndGlyphs" class="r">Cytoband</text>
<text transform="translate(97.8,216.2) matrix(1,0.0015,0,1,0,0) scale(0.86,1)" font-size="4.5" fill="#000" class="g">E2F3</text>
<text transform="translate(117.6,216.2) matrix(1,0.0015,0,1,0,0) scale(0.86,1)" font-size="4.5" fill="#000" class="g">DEK</text>
<text transform="translate(137.1,216.2) matrix(1,0.0015,0,1,0,0) scale(0.86,1)" font-size="4.5" fill="#000" class="g">JARID2</text>
<text transform="translate(97.8,222.14) matrix(1,0.0015,0,1,0,0) scale(0.86,1)" font-size="4.5" fill="#000" class="g">PPARG</text>
<text transform="translate(117.6,222.14) matrix(1,0.0015,0,1,0,0) scale(0.86,1)" font-size="4.5" fill="#000" class="g">RAF1</text>
<text transform="translate(97.8,228.09) matrix(1,0.0015,0,1,0,0) scale(0.86,1)" font-size="4.5" fill="#000" class="g">SDHC</text>
<text transform="translate(117.6,228.09) matrix(1,0.0015,0,1,0,0) scale(0.86,1)" font-size="4.5" fill="#000" class="g">FCGR2B</text>
<text transform="translate(137.1,228.09) matrix(1,0.0015,0,1,0,0) scale(0.86,1)" font-size="4.5" fill="#000" class="g">DDR2</text>
<text transform="translate(156.8,228.09) matrix(1,0.0015,0,1,0,0) scale(0.86,1)" font-size="4.5" fill="#000" class="g">NUF2</text>
<text transform="translate(97.8,234.03) matrix(1,0.0015,0,1,0,0) scale(0.86,1)" font-size="4.5" fill="#000" class="g">BAALC</text>
<text transform="translate(97.8,239.98) matrix(1,0.0015,0,1,0,0) scale(0.86,1)" font-size="4.5" fill="#000" class="g">MCL1</text>
<text transform="translate(117.6,239.98) matrix(1,0.0015,0,1,0,0) scale(0.86,1)" font-size="4.5" fill="#000" class="g">BCL9</text>
<text transform="translate(137.1,239.98) matrix(1,0.0015,0,1,0,0) scale(0.86,1)" font-size="4.5" fill="#000" class="g">PDE4DIP</text>
<text transform="translate(156.8,239.98) matrix(1,0.0015,0,1,0,0) scale(0.86,1)" font-size="4.5" fill="#000" class="g">H3C15</text>
<text transform="translate(176.1,239.98) matrix(1,0.0015,0,1,0,0) scale(0.86,1)" font-size="4.5" fill="#000" class="g">H3C13</text>
<text transform="translate(97.8,245.92) matrix(1,0.0015,0,1,0,0) scale(0.86,1)" font-size="4.5" fill="#000" class="g">ARNT</text>
<text transform="translate(117.6,245.92) matrix(1,0.0015,0,1,0,0) scale(0.86,1)" font-size="4.5" fill="#000" class="g">PBX1</text>
<text transform="translate(137.1,245.92) matrix(1,0.0015,0,1,0,0) scale(0.86,1)" font-size="4.5" fill="#000" class="g">SETDB1</text>
<text transform="translate(156.8,245.92) matrix(1,0.0015,0,1,0,0) scale(0.86,1)" font-size="4.5" fill="#000" class="g">MLLT11</text>
<text transform="translate(97.8,251.86) matrix(1,0.0015,0,1,0,0) scale(0.86,1)" font-size="4.5" fill="#000" class="g">ADGRA2</text>
<text transform="translate(117.6,251.86) matrix(1,0.0015,0,1,0,0) scale(0.86,1)" font-size="4.5" fill="#000" class="g">ZNF703</text>
<text transform="translate(137.1,251.86) matrix(1,0.0015,0,1,0,0) scale(0.86,1)" font-size="4.5" fill="#000" class="g">NSD3</text>
<text transform="translate(156.8,251.86) matrix(1,0.0015,0,1,0,0) scale(0.86,1)" font-size="4.5" fill="#000" class="g">FGFR1</text>
<text transform="translate(97.8,257.81) matrix(1,0.0015,0,1,0,0) scale(0.86,1)" font-size="4.5" fill="#000" class="g">NOTCH2</text>
<text transform="translate(97.8,263.75) matrix(1,0.0015,0,1,0,0) scale(0.86,1)" font-size="4.5" fill="#000" class="g">VHL</text>
<text transform="translate(117.6,263.75) matrix(1,0.0015,0,1,0,0) scale(0.86,1)" font-size="4.5" fill="#000" class="g">FANCD2</text>
<text transform="translate(97.8,269.7) matrix(1,0.0015,0,1,0,0) scale(0.86,1)" font-size="4.5" fill="#000" class="g">CCND1</text>
<text transform="translate(117.6,269.7) matrix(1,0.0015,0,1,0,0) scale(0.86,1)" font-size="4.5" fill="#000" class="g">FGF3</text>
<text transform="translate(137.1,269.7) matrix(1,0.0015,0,1,0,0) scale(0.86,1)" font-size="4.5" fill="#000" class="g">FGF4</text>
<text transform="translate(156.8,269.7) matrix(1,0.0015,0,1,0,0) scale(0.86,1)" font-size="4.5" fill="#000" class="g">FGF19</text>
</g>
<g class="A">
<rect x="251.4" y="211.95" width="34.9" height="4" fill="#ff00ff"/>
<rect x="251.4" y="217.83" width="11" height="4" fill="#ff00ff"/>
<rect x="251.4" y="223.72" width="9.8" height="4" fill="#ff00ff"/>
<rect x="251.4" y="229.6" width="7.6" height="4" fill="#ff00ff"/>
<rect x="251.4" y="235.48" width="6.5" height="4" fill="#ff00ff"/>
<rect x="251.4" y="241.36" width="6" height="4" fill="#ff00ff"/>
<rect x="251.4" y="247.25" width="6" height="4" fill="#ff00ff"/>
<rect x="251.4" y="253.13" width="6" height="4" fill="#ff00ff"/>
<rect x="251.4" y="259.01" width="6" height="4" fill="#ff00ff"/>
<rect x="251.4" y="264.9" width="6" height="4" fill="#ff00ff"/>
<line x1="251.4" y1="210.1" x2="251.4" y2="270.7" stroke="#000" stroke-width="0.8"/>
<line x1="251" y1="270.3" x2="295.7" y2="270.3" stroke="#000" stroke-width="0.8"/>
<line x1="251.3" y1="270.3" x2="251.3" y2="272.4" stroke="#000" stroke-width="0.8"/>
<text transform="translate(251.3,278.6) matrix(1,0.0015,0,1,0,0)" font-size="5.2" font-weight="bold" text-anchor="middle" fill="#000">0</text>
<line x1="262.3" y1="270.3" x2="262.3" y2="272.4" stroke="#000" stroke-width="0.8"/>
<text transform="translate(262.3,278.6) matrix(1,0.0015,0,1,0,0)" font-size="5.2" font-weight="bold" text-anchor="middle" fill="#000">10</text>
<line x1="273.3" y1="270.3" x2="273.3" y2="272.4" stroke="#000" stroke-width="0.8"/>
<text transform="translate(273.3,278.6) matrix(1,0.0015,0,1,0,0)" font-size="5.2" font-weight="bold" text-anchor="middle" fill="#000">20</text>
<line x1="284.3" y1="270.3" x2="284.3" y2="272.4" stroke="#000" stroke-width="0.8"/>
<text transform="translate(284.3,278.6) matrix(1,0.0015,0,1,0,0)" font-size="5.2" font-weight="bold" text-anchor="middle" fill="#000">30</text>
<line x1="295.3" y1="270.3" x2="295.3" y2="272.4" stroke="#000" stroke-width="0.8"/>
<text transform="translate(295.3,278.6) matrix(1,0.0015,0,1,0,0)" font-size="5.2" font-weight="bold" text-anchor="middle" fill="#000">40</text>
<line x1="249.2" y1="213.95" x2="251.4" y2="213.95" stroke="#000" stroke-width="0.7"/>
<text transform="translate(247.8,215.75) matrix(1,0.0015,0,1,0,0)" font-size="5.2" font-weight="bold" text-anchor="end" fill="#000">9p21.3</text>
<line x1="249.2" y1="219.83" x2="251.4" y2="219.83" stroke="#000" stroke-width="0.7"/>
<text transform="translate(247.8,221.63) matrix(1,0.0015,0,1,0,0)" font-size="5.2" font-weight="bold" text-anchor="end" fill="#000">2q22.1-q22.2</text>
<line x1="249.2" y1="225.72" x2="251.4" y2="225.72" stroke="#000" stroke-width="0.7"/>
<text transform="translate(247.8,227.52) matrix(1,0.0015,0,1,0,0)" font-size="5.2" font-weight="bold" text-anchor="end" fill="#000">13q14.2</text>
<line x1="249.2" y1="231.6" x2="251.4" y2="231.6" stroke="#000" stroke-width="0.7"/>
<text transform="translate(247.8,233.4) matrix(1,0.0015,0,1,0,0)" font-size="5.2" font-weight="bold" text-anchor="end" fill="#000">13q14.3</text>
<line x1="249.2" y1="237.48" x2="251.4" y2="237.48" stroke="#000" stroke-width="0.7"/>
<text transform="translate(247.8,239.28) matrix(1,0.0015,0,1,0,0)" font-size="5.2" font-weight="bold" text-anchor="end" fill="#000">8p22</text>
<line x1="249.2" y1="243.36" x2="251.4" y2="243.36" stroke="#000" stroke-width="0.7"/>
<text transform="translate(247.8,245.16) matrix(1,0.0015,0,1,0,0)" font-size="5.2" font-weight="bold" text-anchor="end" fill="#000">13q14.13</text>
<line x1="249.2" y1="249.25" x2="251.4" y2="249.25" stroke="#000" stroke-width="0.7"/>
<text transform="translate(247.8,251.05) matrix(1,0.0015,0,1,0,0)" font-size="5.2" font-weight="bold" text-anchor="end" fill="#000">8p21.2</text>
<line x1="249.2" y1="255.13" x2="251.4" y2="255.13" stroke="#000" stroke-width="0.7"/>
<text transform="translate(247.8,256.93) matrix(1,0.0015,0,1,0,0)" font-size="5.2" font-weight="bold" text-anchor="end" fill="#000">8p21.3</text>
<line x1="249.2" y1="261.01" x2="251.4" y2="261.01" stroke="#000" stroke-width="0.7"/>
<text transform="translate(247.8,262.81) matrix(1,0.0015,0,1,0,0)" font-size="5.2" font-weight="bold" text-anchor="end" fill="#000">8p23.1</text>
<line x1="249.2" y1="266.9" x2="251.4" y2="266.9" stroke="#000" stroke-width="0.7"/>
<text transform="translate(247.8,268.7) matrix(1,0.0015,0,1,0,0)" font-size="5.2" font-weight="bold" text-anchor="end" fill="#000">9p24.1-q23</text>
<text transform="translate(273.45,285.9) matrix(1,0.0015,0,1,0,0)" font-size="5.6" font-weight="bold" text-anchor="middle" fill="#000" textLength="27.5" lengthAdjust="spacingAndGlyphs">Patient (%)</text>
<text transform="translate(213.2,239.8) rotate(-90)" x="0" y="1.98" font-size="5.5" font-weight="bold" text-anchor="middle" textLength="23.2" lengthAdjust="spacingAndGlyphs" class="r">Cytoband</text>
<text transform="translate(297.4,215.85) matrix(1,0.0015,0,1,0,0) scale(0.86,1)" font-size="4.5" fill="#000" class="g">CDKN2A</text>
<text transform="translate(319.9,215.85) matrix(1,0.0015,0,1,0,0) scale(0.86,1)" font-size="4.5" fill="#000" class="g">CDKN2B</text>
<text transform="translate(342.5,215.85) matrix(1,0.0015,0,1,0,0) scale(0.86,1)" font-size="4.5" fill="#000" class="g">MTAP</text>
<text transform="translate(297.4,221.73) matrix(1,0.0015,0,1,0,0) scale(0.86,1)" font-size="4.5" fill="#000" class="g">LRP1B</text>
<text transform="translate(297.4,227.62) matrix(1,0.0015,0,1,0,0) scale(0.86,1)" font-size="4.5" fill="#000" class="g">RB1</text>
<text transform="translate(319.9,227.62) matrix(1,0.0015,0,1,0,0) scale(0.86,1)" font-size="4.5" fill="#000" class="g">CYSLTR2</text>
<text transform="translate(342.5,227.62) matrix(1,0.0015,0,1,0,0) scale(0.86,1)" font-size="4.5" fill="#000" class="g">SETDB2</text>
<text transform="translate(297.4,233.5) matrix(1,0.0015,0,1,0,0) scale(0.86,1)" font-size="4.5" fill="#000" class="g">RNASEH2B</text>
<text transform="translate(297.4,239.38) matrix(1,0.0015,0,1,0,0) scale(0.86,1)" font-size="4.5" fill="#000" class="g">TUSC3</text>
<text transform="translate(319.9,239.38) matrix(1,0.0015,0,1,0,0) scale(0.86,1)" font-size="4.5" fill="#000" class="g">PCM1</text>
<text transform="translate(297.4,245.26) matrix(1,0.0015,0,1,0,0) scale(0.86,1)" font-size="4.5" fill="#000" class="g">LCP1</text>
<text transform="translate(297.4,251.15) matrix(1,0.0015,0,1,0,0) scale(0.86,1)" font-size="4.5" fill="#000" class="g">NKX3-1</text>
<text transform="translate(297.4,257.03) matrix(1,0.0015,0,1,0,0) scale(0.86,1)" font-size="4.5" fill="#000" class="g">ATP6V1B2</text>
<text transform="translate(297.4,262.91) matrix(1,0.0015,0,1,0,0) scale(0.86,1)" font-size="4.5" fill="#000" class="g">GATA4</text>
<text transform="translate(297.4,268.8) matrix(1,0.0015,0,1,0,0) scale(0.86,1)" font-size="4.5" fill="#000" class="g">PTPRD</text>
</g>
<g class="A">
<rect x="52.5" y="300.9" width="35.4" height="4" fill="#000000"/>
<rect x="52.5" y="306.86" width="34.5" height="4" fill="#000000"/>
<rect x="52.5" y="312.81" width="28.6" height="4" fill="#000000"/>
<rect x="52.5" y="318.77" width="27.9" height="4" fill="#000000"/>
<rect x="52.5" y="324.72" width="25.2" height="4" fill="#000000"/>
<rect x="52.5" y="330.68" width="24.3" height="4" fill="#000000"/>
<rect x="52.5" y="336.64" width="23.4" height="4" fill="#000000"/>
<rect x="52.5" y="342.59" width="22.7" height="4" fill="#000000"/>
<rect x="52.5" y="348.55" width="22.3" height="4" fill="#000000"/>
<rect x="52.5" y="354.5" width="21.4" height="4" fill="#000000"/>
<line x1="52.5" y1="299" x2="52.5" y2="360.8" stroke="#000" stroke-width="0.8"/>
<line x1="52.1" y1="360.4" x2="97.06" y2="360.4" stroke="#000" stroke-width="0.8"/>
<line x1="52.5" y1="360.4" x2="52.5" y2="362.5" stroke="#000" stroke-width="0.8"/>
<text transform="translate(52.5,368.4) matrix(1,0.0015,0,1,0,0)" font-size="5.2" font-weight="bold" text-anchor="middle" fill="#000">0</text>
<line x1="63.54" y1="360.4" x2="63.54" y2="362.5" stroke="#000" stroke-width="0.8"/>
<text transform="translate(63.54,368.4) matrix(1,0.0015,0,1,0,0)" font-size="5.2" font-weight="bold" text-anchor="middle" fill="#000">5</text>
<line x1="74.58" y1="360.4" x2="74.58" y2="362.5" stroke="#000" stroke-width="0.8"/>
<text transform="translate(74.58,368.4) matrix(1,0.0015,0,1,0,0)" font-size="5.2" font-weight="bold" text-anchor="middle" fill="#000">10</text>
<line x1="85.62" y1="360.4" x2="85.62" y2="362.5" stroke="#000" stroke-width="0.8"/>
<text transform="translate(85.62,368.4) matrix(1,0.0015,0,1,0,0)" font-size="5.2" font-weight="bold" text-anchor="middle" fill="#000">15</text>
<line x1="96.66" y1="360.4" x2="96.66" y2="362.5" stroke="#000" stroke-width="0.8"/>
<text transform="translate(96.66,368.4) matrix(1,0.0015,0,1,0,0)" font-size="5.2" font-weight="bold" text-anchor="middle" fill="#000">20</text>
<line x1="50.3" y1="302.9" x2="52.5" y2="302.9" stroke="#000" stroke-width="0.7"/>
<text transform="translate(48.9,304.7) matrix(1,0.0015,0,1,0,0)" font-size="5.2" font-weight="bold" text-anchor="end" fill="#000">1q23.3</text>
<line x1="50.3" y1="308.86" x2="52.5" y2="308.86" stroke="#000" stroke-width="0.7"/>
<text transform="translate(48.9,310.66) matrix(1,0.0015,0,1,0,0)" font-size="5.2" font-weight="bold" text-anchor="end" fill="#000">6p22.3</text>
<line x1="50.3" y1="314.81" x2="52.5" y2="314.81" stroke="#000" stroke-width="0.7"/>
<text transform="translate(48.9,316.61) matrix(1,0.0015,0,1,0,0)" font-size="5.2" font-weight="bold" text-anchor="end" fill="#000">3p25.2</text>
<line x1="50.3" y1="320.77" x2="52.5" y2="320.77" stroke="#000" stroke-width="0.7"/>
<text transform="translate(48.9,322.57) matrix(1,0.0015,0,1,0,0)" font-size="5.2" font-weight="bold" text-anchor="end" fill="#000">8q22.3</text>
<line x1="50.3" y1="326.72" x2="52.5" y2="326.72" stroke="#000" stroke-width="0.7"/>
<text transform="translate(48.9,328.52) matrix(1,0.0015,0,1,0,0)" font-size="5.2" font-weight="bold" text-anchor="end" fill="#000">1q23.2</text>
<line x1="50.3" y1="332.68" x2="52.5" y2="332.68" stroke="#000" stroke-width="0.7"/>
<text transform="translate(48.9,334.48) matrix(1,0.0015,0,1,0,0)" font-size="5.2" font-weight="bold" text-anchor="end" fill="#000">11q13.3</text>
<line x1="50.3" y1="338.64" x2="52.5" y2="338.64" stroke="#000" stroke-width="0.7"/>
<text transform="translate(48.9,340.44) matrix(1,0.0015,0,1,0,0)" font-size="5.2" font-weight="bold" text-anchor="end" fill="#000">1q21.2</text>
<line x1="50.3" y1="344.59" x2="52.5" y2="344.59" stroke="#000" stroke-width="0.7"/>
<text transform="translate(48.9,346.39) matrix(1,0.0015,0,1,0,0)" font-size="5.2" font-weight="bold" text-anchor="end" fill="#000">1q21.3</text>
<line x1="50.3" y1="350.55" x2="52.5" y2="350.55" stroke="#000" stroke-width="0.7"/>
<text transform="translate(48.9,352.35) matrix(1,0.0015,0,1,0,0)" font-size="5.2" font-weight="bold" text-anchor="end" fill="#000">8p11.23</text>
<line x1="50.3" y1="356.5" x2="52.5" y2="356.5" stroke="#000" stroke-width="0.7"/>
<text transform="translate(48.9,358.3) matrix(1,0.0015,0,1,0,0)" font-size="5.2" font-weight="bold" text-anchor="end" fill="#000">1p12</text>
<text transform="translate(74.35,375.2) matrix(1,0.0015,0,1,0,0)" font-size="5.6" font-weight="bold" text-anchor="middle" fill="#000" textLength="27.1" lengthAdjust="spacingAndGlyphs">Patient (%)</text>
<text transform="translate(25.8,329.7) rotate(-90)" x="0" y="1.98" font-size="5.5" font-weight="bold" text-anchor="middle" textLength="23.2" lengthAdjust="spacingAndGlyphs" class="r">Cytoband</text>
<text transform="translate(97.5,304.8) matrix(1,0.0015,0,1,0,0) scale(0.86,1)" font-size="4.5" fill="#000" class="g">SDHC</text>
<text transform="translate(117.1,304.8) matrix(1,0.0015,0,1,0,0) scale(0.86,1)" font-size="4.5" fill="#000" class="g">FCGR2B</text>
<text transform="translate(137,304.8) matrix(1,0.0015,0,1,0,0) scale(0.86,1)" font-size="4.5" fill="#000" class="g">DDR2</text>
<text transform="translate(156.5,304.8) matrix(1,0.0015,0,1,0,0) scale(0.86,1)" font-size="4.5" fill="#000" class="g">NUF2</text>
<text transform="translate(176,304.8) matrix(1,0.0015,0,1,0,0) scale(0.86,1)" font-size="4.5" fill="#000" class="g">NCSTN</text>
<text transform="translate(97.5,310.76) matrix(1,0.0015,0,1,0,0) scale(0.86,1)" font-size="4.5" fill="#000" class="g">E2F3</text>
<text transform="translate(117.1,310.76) matrix(1,0.0015,0,1,0,0) scale(0.86,1)" font-size="4.5" fill="#000" class="g">DEK</text>
<text transform="translate(97.5,316.71) matrix(1,0.0015,0,1,0,0) scale(0.86,1)" font-size="4.5" fill="#000" class="g">PPARG</text>
<text transform="translate(117.1,316.71) matrix(1,0.0015,0,1,0,0) scale(0.86,1)" font-size="4.5" fill="#000" class="g">RAF1</text>
<text transform="translate(97.5,322.67) matrix(1,0.0015,0,1,0,0) scale(0.86,1)" font-size="4.5" fill="#000" class="g">UBR5</text>
<text transform="translate(117.1,322.67) matrix(1,0.0015,0,1,0,0) scale(0.86,1)" font-size="4.5" fill="#000" class="g">BAALC</text>
<text transform="translate(97.5,328.62) matrix(1,0.0015,0,1,0,0) scale(0.86,1)" font-size="4.5" fill="#000" class="g">NUF2</text>
<text transform="translate(117.1,328.62) matrix(1,0.0015,0,1,0,0) scale(0.86,1)" font-size="4.5" fill="#000" class="g">NCSTN</text>
<text transform="translate(97.5,334.58) matrix(1,0.0015,0,1,0,0) scale(0.86,1)" font-size="4.5" fill="#000" class="g">CCND1</text>
<text transform="translate(117.1,334.58) matrix(1,0.0015,0,1,0,0) scale(0.86,1)" font-size="4.5" fill="#000" class="g">FGF19</text>
<text transform="translate(137,334.58) matrix(1,0.0015,0,1,0,0) scale(0.86,1)" font-size="4.5" fill="#000" class="g">FGF4</text>
<text transform="translate(156.5,334.58) matrix(1,0.0015,0,1,0,0) scale(0.86,1)" font-size="4.5" fill="#000" class="g">FGF3</text>
<text transform="translate(97.5,340.54) matrix(1,0.0015,0,1,0,0) scale(0.86,1)" font-size="4.5" fill="#000" class="g">MCL1</text>
<text transform="translate(117.1,340.54) matrix(1,0.0015,0,1,0,0) scale(0.86,1)" font-size="4.5" fill="#000" class="g">BCL9</text>
<text transform="translate(137,340.54) matrix(1,0.0015,0,1,0,0) scale(0.86,1)" font-size="4.5" fill="#000" class="g">PDE4DIP</text>
<text transform="translate(156.5,340.54) matrix(1,0.0015,0,1,0,0) scale(0.86,1)" font-size="4.5" fill="#000" class="g">H3C15</text>
<text transform="translate(176,340.54) matrix(1,0.0015,0,1,0,0) scale(0.86,1)" font-size="4.5" fill="#000" class="g">H3C13</text>
<text transform="translate(97.5,346.49) matrix(1,0.0015,0,1,0,0) scale(0.86,1)" font-size="4.5" fill="#000" class="g">SETDB1</text>
<text transform="translate(117.1,346.49) matrix(1,0.0015,0,1,0,0) scale(0.86,1)" font-size="4.5" fill="#000" class="g">MLLT11</text>
<text transform="translate(97.5,352.45) matrix(1,0.0015,0,1,0,0) scale(0.86,1)" font-size="4.5" fill="#000" class="g">ADGRA2</text>
<text transform="translate(117.1,352.45) matrix(1,0.0015,0,1,0,0) scale(0.86,1)" font-size="4.5" fill="#000" class="g">ZNF703</text>
<text transform="translate(137,352.45) matrix(1,0.0015,0,1,0,0) scale(0.86,1)" font-size="4.5" fill="#000" class="g">NSD3</text>
<text transform="translate(156.5,352.45) matrix(1,0.0015,0,1,0,0) scale(0.86,1)" font-size="4.5" fill="#000" class="g">FGFR1</text>
<text transform="translate(97.5,358.4) matrix(1,0.0015,0,1,0,0) scale(0.86,1)" font-size="4.5" fill="#000" class="g">NOTCH2</text>
</g>
<g class="A">
<rect x="253.1" y="300.85" width="34.8" height="4" fill="#000000"/>
<rect x="253.1" y="306.8" width="10" height="4" fill="#000000"/>
<rect x="253.1" y="312.75" width="10" height="4" fill="#000000"/>
<rect x="253.1" y="318.7" width="7.1" height="4" fill="#000000"/>
<rect x="253.1" y="324.65" width="6.6" height="4" fill="#000000"/>
<rect x="253.1" y="330.6" width="6.6" height="4" fill="#000000"/>
<rect x="253.1" y="336.55" width="6.6" height="4" fill="#000000"/>
<rect x="253.1" y="342.5" width="5.7" height="4" fill="#000000"/>
<rect x="253.1" y="348.45" width="5.7" height="4" fill="#000000"/>
<rect x="253.1" y="354.4" width="5.7" height="4" fill="#000000"/>
<line x1="253.1" y1="299" x2="253.1" y2="360.8" stroke="#000" stroke-width="0.8"/>
<line x1="252.7" y1="360.4" x2="296.8" y2="360.4" stroke="#000" stroke-width="0.8"/>
<line x1="252.7" y1="360.4" x2="252.7" y2="362.5" stroke="#000" stroke-width="0.8"/>
<text transform="translate(252.7,368.4) matrix(1,0.0015,0,1,0,0)" font-size="5.2" font-weight="bold" text-anchor="middle" fill="#000">0</text>
<line x1="263.62" y1="360.4" x2="263.62" y2="362.5" stroke="#000" stroke-width="0.8"/>
<text transform="translate(263.62,368.4) matrix(1,0.0015,0,1,0,0)" font-size="5.2" font-weight="bold" text-anchor="middle" fill="#000">10</text>
<line x1="274.55" y1="360.4" x2="274.55" y2="362.5" stroke="#000" stroke-width="0.8"/>
<text transform="translate(274.55,368.4) matrix(1,0.0015,0,1,0,0)" font-size="5.2" font-weight="bold" text-anchor="middle" fill="#000">20</text>
<line x1="285.47" y1="360.4" x2="285.47" y2="362.5" stroke="#000" stroke-width="0.8"/>
<text transform="translate(285.47,368.4) matrix(1,0.0015,0,1,0,0)" font-size="5.2" font-weight="bold" text-anchor="middle" fill="#000">30</text>
<line x1="296.4" y1="360.4" x2="296.4" y2="362.5" stroke="#000" stroke-width="0.8"/>
<text transform="translate(296.4,368.4) matrix(1,0.0015,0,1,0,0)" font-size="5.2" font-weight="bold" text-anchor="middle" fill="#000">40</text>
<line x1="250.9" y1="302.85" x2="253.1" y2="302.85" stroke="#000" stroke-width="0.7"/>
<text transform="translate(249.5,304.65) matrix(1,0.0015,0,1,0,0)" font-size="5.2" font-weight="bold" text-anchor="end" fill="#000">9p21.3</text>
<line x1="250.9" y1="308.8" x2="253.1" y2="308.8" stroke="#000" stroke-width="0.7"/>
<text transform="translate(249.5,310.6) matrix(1,0.0015,0,1,0,0)" font-size="5.2" font-weight="bold" text-anchor="end" fill="#000">13q14.2</text>
<line x1="250.9" y1="314.75" x2="253.1" y2="314.75" stroke="#000" stroke-width="0.7"/>
<text transform="translate(249.5,316.55) matrix(1,0.0015,0,1,0,0)" font-size="5.2" font-weight="bold" text-anchor="end" fill="#000">2q22.1-q22.2</text>
<line x1="250.9" y1="320.7" x2="253.1" y2="320.7" stroke="#000" stroke-width="0.7"/>
<text transform="translate(249.5,322.5) matrix(1,0.0015,0,1,0,0)" font-size="5.2" font-weight="bold" text-anchor="end" fill="#000">8p22</text>
<line x1="250.9" y1="326.65" x2="253.1" y2="326.65" stroke="#000" stroke-width="0.7"/>
<text transform="translate(249.5,328.45) matrix(1,0.0015,0,1,0,0)" font-size="5.2" font-weight="bold" text-anchor="end" fill="#000">13q14.3</text>
<line x1="250.9" y1="332.6" x2="253.1" y2="332.6" stroke="#000" stroke-width="0.7"/>
<text transform="translate(249.5,334.4) matrix(1,0.0015,0,1,0,0)" font-size="5.2" font-weight="bold" text-anchor="end" fill="#000">8p21.2</text>
<line x1="250.9" y1="338.55" x2="253.1" y2="338.55" stroke="#000" stroke-width="0.7"/>
<text transform="translate(249.5,340.35) matrix(1,0.0015,0,1,0,0)" font-size="5.2" font-weight="bold" text-anchor="end" fill="#000">8p23.1</text>
<line x1="250.9" y1="344.5" x2="253.1" y2="344.5" stroke="#000" stroke-width="0.7"/>
<text transform="translate(249.5,346.3) matrix(1,0.0015,0,1,0,0)" font-size="5.2" font-weight="bold" text-anchor="end" fill="#000">8p21.3</text>
<line x1="250.9" y1="350.45" x2="253.1" y2="350.45" stroke="#000" stroke-width="0.7"/>
<text transform="translate(249.5,352.25) matrix(1,0.0015,0,1,0,0)" font-size="5.2" font-weight="bold" text-anchor="end" fill="#000">8p12</text>
<line x1="250.9" y1="356.4" x2="253.1" y2="356.4" stroke="#000" stroke-width="0.7"/>
<text transform="translate(249.5,358.2) matrix(1,0.0015,0,1,0,0)" font-size="5.2" font-weight="bold" text-anchor="end" fill="#000">8p21.1</text>
<text transform="translate(275.05,375.2) matrix(1,0.0015,0,1,0,0)" font-size="5.6" font-weight="bold" text-anchor="middle" fill="#000" textLength="27.1" lengthAdjust="spacingAndGlyphs">Patient (%)</text>
<text transform="translate(214.7,329.7) rotate(-90)" x="0" y="1.98" font-size="5.5" font-weight="bold" text-anchor="middle" textLength="23.2" lengthAdjust="spacingAndGlyphs" class="r">Cytoband</text>
<text transform="translate(298.3,304.75) matrix(1,0.0015,0,1,0,0) scale(0.86,1)" font-size="4.5" fill="#000" class="g">CDKN2A</text>
<text transform="translate(319.9,304.75) matrix(1,0.0015,0,1,0,0) scale(0.86,1)" font-size="4.5" fill="#000" class="g">CDKN2B</text>
<text transform="translate(342.1,304.75) matrix(1,0.0015,0,1,0,0) scale(0.86,1)" font-size="4.5" fill="#000" class="g">MTAP</text>
<text transform="translate(298.3,310.7) matrix(1,0.0015,0,1,0,0) scale(0.86,1)" font-size="4.5" fill="#000" class="g">RB1</text>
<text transform="translate(319.9,310.7) matrix(1,0.0015,0,1,0,0) scale(0.86,1)" font-size="4.5" fill="#000" class="g">CYSLTR2</text>
<text transform="translate(342.1,310.7) matrix(1,0.0015,0,1,0,0) scale(0.86,1)" font-size="4.5" fill="#000" class="g">SETDB2</text>
<text transform="translate(298.3,316.65) matrix(1,0.0015,0,1,0,0) scale(0.86,1)" font-size="4.5" fill="#000" class="g">LRP1B</text>
<text transform="translate(298.3,322.6) matrix(1,0.0015,0,1,0,0) scale(0.86,1)" font-size="4.5" fill="#000" class="g">TUSC3</text>
<text transform="translate(319.9,322.6) matrix(1,0.0015,0,1,0,0) scale(0.86,1)" font-size="4.5" fill="#000" class="g">PCM1</text>
<text transform="translate(298.3,328.55) matrix(1,0.0015,0,1,0,0) scale(0.86,1)" font-size="4.5" fill="#000" class="g">RNASEH2B</text>
<text transform="translate(298.3,334.5) matrix(1,0.0015,0,1,0,0) scale(0.86,1)" font-size="4.5" fill="#000" class="g">NKX3-1</text>
<text transform="translate(319.9,334.5) matrix(1,0.0015,0,1,0,0) scale(0.86,1)" font-size="4.5" fill="#000" class="g">PPP2R2A</text>
<text transform="translate(298.3,340.45) matrix(1,0.0015,0,1,0,0) scale(0.86,1)" font-size="4.5" fill="#000" class="g">GATA4</text>
<text transform="translate(298.3,346.4) matrix(1,0.0015,0,1,0,0) scale(0.86,1)" font-size="4.5" fill="#000" class="g">ATP6V1B2</text>
<text transform="translate(298.3,352.35) matrix(1,0.0015,0,1,0,0) scale(0.86,1)" font-size="4.5" fill="#000" class="g">NRG1</text>
<text transform="translate(319.9,352.35) matrix(1,0.0015,0,1,0,0) scale(0.86,1)" font-size="4.5" fill="#000" class="g">DUSP4</text>
<text transform="translate(298.3,358.3) matrix(1,0.0015,0,1,0,0) scale(0.86,1)" font-size="4.5" fill="#000" class="g">ESCO2</text>
</g>
<text transform="translate(399.6,39.7) scale(0.9,1)" font-size="20.6" stroke="#000" stroke-width="0.35">B</text>
<text transform="translate(439.7,28.9) matrix(1,0.0015,0,1,0,0)" font-size="8.8" font-weight="bold" text-anchor="start" fill="#000" textLength="51.2" lengthAdjust="spacingAndGlyphs" class="t">Mutation Count</text>
<line x1="427.6" y1="86.2" x2="427.6" y2="171" stroke="#000" stroke-width="0.8"/>
<line x1="424.9" y1="86.6" x2="427.6" y2="86.6" stroke="#000" stroke-width="0.8"/>
<text transform="translate(423.4,88.6) matrix(1,0.0015,0,1,0,0)" font-size="5.6" font-weight="bold" text-anchor="end" fill="#000">4000</text>
<line x1="424.9" y1="103.44" x2="427.6" y2="103.44" stroke="#000" stroke-width="0.8"/>
<text transform="translate(423.4,105.44) matrix(1,0.0015,0,1,0,0)" font-size="5.6" font-weight="bold" text-anchor="end" fill="#000">3000</text>
<line x1="424.9" y1="120.28" x2="427.6" y2="120.28" stroke="#000" stroke-width="0.8"/>
<text transform="translate(423.4,122.28) matrix(1,0.0015,0,1,0,0)" font-size="5.6" font-weight="bold" text-anchor="end" fill="#000">2000</text>
<line x1="424.9" y1="137.12" x2="427.6" y2="137.12" stroke="#000" stroke-width="0.8"/>
<text transform="translate(423.4,139.12) matrix(1,0.0015,0,1,0,0)" font-size="5.6" font-weight="bold" text-anchor="end" fill="#000">1000</text>
<line x1="424.9" y1="153.96" x2="427.6" y2="153.96" stroke="#000" stroke-width="0.8"/>
<text transform="translate(423.4,155.96) matrix(1,0.0015,0,1,0,0)" font-size="5.6" font-weight="bold" text-anchor="end" fill="#000">0</text>
<line x1="424.9" y1="170.8" x2="427.6" y2="170.8" stroke="#000" stroke-width="0.8"/>
<text transform="translate(423.4,172.8) matrix(1,0.0015,0,1,0,0)" font-size="5.6" font-weight="bold" text-anchor="end" fill="#000">-1000</text>
<text transform="translate(404,128.5) rotate(-90)" x="0" y="2.48" font-size="6.9" font-weight="bold" text-anchor="middle" textLength="66.3" lengthAdjust="spacingAndGlyphs" class="r">Number of Mutations</text>
<line x1="427.2" y1="170.5" x2="502.3" y2="170.5" stroke="#000" stroke-width="0.8"/>
<line x1="439.4" y1="170.5" x2="439.4" y2="173.8" stroke="#000" stroke-width="0.8"/>
<line x1="456.3" y1="170.5" x2="456.3" y2="173.8" stroke="#000" stroke-width="0.8"/>
<line x1="473.4" y1="170.5" x2="473.4" y2="173.8" stroke="#000" stroke-width="0.8"/>
<line x1="490.7" y1="170.5" x2="490.7" y2="173.8" stroke="#000" stroke-width="0.8"/>
<text transform="translate(439.5,181.7) matrix(1,0.0015,0,1,0,0)" font-size="6.3" font-weight="bold" text-anchor="middle" fill="#000" textLength="15.4" lengthAdjust="spacingAndGlyphs">Asian</text>
<text transform="translate(456.45,181.7) matrix(1,0.0015,0,1,0,0)" font-size="6.3" font-weight="bold" text-anchor="middle" fill="#000" textLength="14.9" lengthAdjust="spacingAndGlyphs">Black</text>
<text transform="translate(473.2,181.7) matrix(1,0.0015,0,1,0,0)" font-size="6.3" font-weight="bold" text-anchor="middle" fill="#000" textLength="14.6" lengthAdjust="spacingAndGlyphs">White</text>
<text transform="translate(490.7,181.7) matrix(1,0.0015,0,1,0,0)" font-size="6.3" font-weight="bold" text-anchor="middle" fill="#000" textLength="15.8" lengthAdjust="spacingAndGlyphs">BLCA</text>
<line x1="428" y1="153.7" x2="503.5" y2="153.7" stroke="#3a3a3a" stroke-width="1.3" stroke-dasharray="1.1,1.2"/>
<path d="M439.4,133.3 L439.4,46.5 L490.8,46.5 L490.8,59.5" fill="none" stroke="#000" stroke-width="0.8"/>
<path d="M456.4,104.9 L456.4,64.4 L490.8,64.4 L490.8,78" fill="none" stroke="#000" stroke-width="0.8"/>
<path d="M473.6,88 L473.6,82.3 L490.8,82.3 L490.8,88" fill="none" stroke="#000" stroke-width="0.8"/>
<line x1="458.43" y1="38.15" x2="458.43" y2="42.25" stroke="#000" stroke-width="1.15" stroke-linecap="butt"/>
<line x1="456.65" y1="39.18" x2="460.2" y2="41.23" stroke="#000" stroke-width="1.15" stroke-linecap="butt"/>
<line x1="460.2" y1="39.18" x2="456.65" y2="41.23" stroke="#000" stroke-width="1.15" stroke-linecap="butt"/>
<line x1="462.88" y1="38.15" x2="462.88" y2="42.25" stroke="#000" stroke-width="1.15" stroke-linecap="butt"/>
<line x1="461.1" y1="39.18" x2="464.65" y2="41.23" stroke="#000" stroke-width="1.15" stroke-linecap="butt"/>
<line x1="464.65" y1="39.18" x2="461.1" y2="41.23" stroke="#000" stroke-width="1.15" stroke-linecap="butt"/>
<line x1="467.32" y1="38.15" x2="467.32" y2="42.25" stroke="#000" stroke-width="1.15" stroke-linecap="butt"/>
<line x1="465.55" y1="39.18" x2="469.1" y2="41.23" stroke="#000" stroke-width="1.15" stroke-linecap="butt"/>
<line x1="469.1" y1="39.18" x2="465.55" y2="41.23" stroke="#000" stroke-width="1.15" stroke-linecap="butt"/>
<line x1="471.78" y1="38.15" x2="471.78" y2="42.25" stroke="#000" stroke-width="1.15" stroke-linecap="butt"/>
<line x1="470" y1="39.18" x2="473.55" y2="41.23" stroke="#000" stroke-width="1.15" stroke-linecap="butt"/>
<line x1="473.55" y1="39.18" x2="470" y2="41.23" stroke="#000" stroke-width="1.15" stroke-linecap="butt"/>
<text transform="translate(474,59.9) matrix(1,0.0015,0,1,0,0)" font-size="6.9" text-anchor="middle" fill="#000" textLength="6.2" lengthAdjust="spacingAndGlyphs">ns</text>
<text transform="translate(482.2,78) matrix(1,0.0015,0,1,0,0)" font-size="6.9" text-anchor="middle" fill="#000" textLength="6.7" lengthAdjust="spacingAndGlyphs">ns</text>
<path d="M439.4,137.5 L439.7,138.5 L439.8,146 L440,148.8 L440.7,150 L442.8,151 L444.6,152 L444.9,152.9 L442.4,153.8 L439.4,154.8 L439.4,154.8 L436.4,153.8 L433.9,152.9 L434.2,152 L436,151 L438.1,150 L438.8,148.8 L439,146 L439.1,138.5 L439.4,137.5Z" fill="#0000ff" stroke="#0000ff" stroke-width="0.8" stroke-linejoin="round"/>
<path d="M456.3,108.8 L457.15,110.3 L456.42,111.5 L456.42,144 L456.5,145.3 L457.1,147 L458.2,149 L459.6,150.5 L460.9,151.5 L461.5,152.1 L460.9,152.8 L459.3,153.6 L457.7,154.5 L456.3,155.4 L456.3,155.4 L454.9,154.5 L453.3,153.6 L451.7,152.8 L451.1,152.1 L451.7,151.5 L453,150.5 L454.4,149 L455.5,147 L456.1,145.3 L456.18,144 L456.18,111.5 L455.45,110.3 L456.3,108.8Z" fill="#fff" stroke="#20ff0a" stroke-width="1.1" stroke-linejoin="round"/>
<path d="M473.4,92.6 L473.55,93.2 L473.55,138 L473.6,144 L473.6,145.3 L474.2,147 L475.3,149 L476.7,150.5 L478,151.5 L478.6,152.1 L478,152.8 L476.4,153.6 L474.8,154.5 L473.4,155.4 L473.4,155.4 L472,154.5 L470.4,153.6 L468.8,152.8 L468.2,152.1 L468.8,151.5 L470.1,150.5 L471.5,149 L472.6,147 L473.2,145.3 L473.2,144 L473.25,138 L473.25,93.2 L473.4,92.6Z" fill="#fff" stroke="#ff00ff" stroke-width="1.1" stroke-linejoin="round"/>
<path d="M490.7,92.6 L490.9,93.2 L491,125 L491.05,138 L491.15,142 L491.3,145 L491.6,146.5 L492.3,148 L493.3,149.5 L494.5,150.7 L495.4,151.5 L496,152.1 L495.3,152.8 L493.7,153.6 L492.1,154.5 L490.7,155.4 L490.7,155.4 L489.3,154.5 L487.7,153.6 L486.1,152.8 L485.4,152.1 L486,151.5 L486.9,150.7 L488.1,149.5 L489.1,148 L489.8,146.5 L490.1,145 L490.25,142 L490.35,138 L490.4,125 L490.5,93.2 L490.7,92.6Z" fill="#fff" stroke="#000000" stroke-width="1.1" stroke-linejoin="round"/>
<line x1="490.7" y1="128" x2="490.7" y2="146.5" stroke="#000" stroke-width="1.5"/>
<line x1="453.1" y1="151.3" x2="459.5" y2="151.3" stroke="#333" stroke-width="0.6" stroke-dasharray="0.8,0.4"/>
<line x1="470.2" y1="151.3" x2="476.6" y2="151.3" stroke="#333" stroke-width="0.6" stroke-dasharray="0.8,0.4"/>
<line x1="487.5" y1="151.3" x2="493.9" y2="151.3" stroke="#333" stroke-width="0.6" stroke-dasharray="0.8,0.4"/>
<text transform="translate(512.3,39.6) scale(0.87,1)" font-size="20.6" stroke="#000" stroke-width="0.4">C</text>
<text transform="translate(549,29.5) matrix(1,0.0015,0,1,0,0)" font-size="9" font-weight="bold" text-anchor="start" fill="#000" textLength="60" lengthAdjust="spacingAndGlyphs" class="t">Aneuploidy Score</text>
<line x1="541.5" y1="79.9" x2="541.5" y2="170.1" stroke="#000" stroke-width="0.8"/>
<line x1="538.8" y1="80.3" x2="541.5" y2="80.3" stroke="#000" stroke-width="0.8"/>
<text transform="translate(537.6,82.3) matrix(1,0.0015,0,1,0,0)" font-size="5.6" font-weight="bold" text-anchor="end" fill="#000">50</text>
<line x1="538.8" y1="95.25" x2="541.5" y2="95.25" stroke="#000" stroke-width="0.8"/>
<text transform="translate(537.6,97.25) matrix(1,0.0015,0,1,0,0)" font-size="5.6" font-weight="bold" text-anchor="end" fill="#000">40</text>
<line x1="538.8" y1="110.2" x2="541.5" y2="110.2" stroke="#000" stroke-width="0.8"/>
<text transform="translate(537.6,112.2) matrix(1,0.0015,0,1,0,0)" font-size="5.6" font-weight="bold" text-anchor="end" fill="#000">30</text>
<line x1="538.8" y1="125.15" x2="541.5" y2="125.15" stroke="#000" stroke-width="0.8"/>
<text transform="translate(537.6,127.15) matrix(1,0.0015,0,1,0,0)" font-size="5.6" font-weight="bold" text-anchor="end" fill="#000">20</text>
<line x1="538.8" y1="140.1" x2="541.5" y2="140.1" stroke="#000" stroke-width="0.8"/>
<text transform="translate(537.6,142.1) matrix(1,0.0015,0,1,0,0)" font-size="5.6" font-weight="bold" text-anchor="end" fill="#000">10</text>
<line x1="538.8" y1="155.05" x2="541.5" y2="155.05" stroke="#000" stroke-width="0.8"/>
<text transform="translate(537.6,157.05) matrix(1,0.0015,0,1,0,0)" font-size="5.6" font-weight="bold" text-anchor="end" fill="#000">0</text>
<line x1="538.8" y1="170" x2="541.5" y2="170" stroke="#000" stroke-width="0.8"/>
<text transform="translate(537.6,172) matrix(1,0.0015,0,1,0,0)" font-size="5.6" font-weight="bold" text-anchor="end" fill="#000">-10</text>
<text transform="translate(523.6,125.1) rotate(-90)" x="0" y="2.48" font-size="6.9" font-weight="bold" text-anchor="middle" textLength="58.8" lengthAdjust="spacingAndGlyphs" class="r">Aneuploidy Score</text>
<line x1="541.1" y1="169.7" x2="616" y2="169.7" stroke="#000" stroke-width="0.8"/>
<line x1="553.2" y1="169.7" x2="553.2" y2="173" stroke="#000" stroke-width="0.8"/>
<line x1="570.3" y1="169.7" x2="570.3" y2="173" stroke="#000" stroke-width="0.8"/>
<line x1="587.3" y1="169.7" x2="587.3" y2="173" stroke="#000" stroke-width="0.8"/>
<line x1="604.7" y1="169.7" x2="604.7" y2="173" stroke="#000" stroke-width="0.8"/>
<text transform="translate(553.2,181.7) matrix(1,0.0015,0,1,0,0)" font-size="6.3" font-weight="bold" text-anchor="middle" fill="#000" textLength="15.2" lengthAdjust="spacingAndGlyphs">Asian</text>
<text transform="translate(570.55,181.7) matrix(1,0.0015,0,1,0,0)" font-size="6.3" font-weight="bold" text-anchor="middle" fill="#000" textLength="15.5" lengthAdjust="spacingAndGlyphs">Black</text>
<text transform="translate(587.65,181.7) matrix(1,0.0015,0,1,0,0)" font-size="6.3" font-weight="bold" text-anchor="middle" fill="#000" textLength="15.1" lengthAdjust="spacingAndGlyphs">White</text>
<text transform="translate(604.6,181.7) matrix(1,0.0015,0,1,0,0)" font-size="6.3" font-weight="bold" text-anchor="middle" fill="#000" textLength="15.2" lengthAdjust="spacingAndGlyphs">BLCA</text>
<line x1="541.9" y1="154.9" x2="617" y2="154.9" stroke="#3a3a3a" stroke-width="1.3" stroke-dasharray="1.1,1.2"/>
<path d="M553.2,99.1 L553.2,47.7 L604.8,47.7 L604.8,62.9" fill="none" stroke="#000" stroke-width="0.8"/>
<path d="M570.3,100.4 L570.3,67.6 L604.8,67.6 L604.8,82.5" fill="none" stroke="#000" stroke-width="0.8"/>
<path d="M587.3,92.5 L587.3,86.7 L604.8,86.7 L604.8,92.5" fill="none" stroke="#000" stroke-width="0.8"/>
<line x1="574.75" y1="39.55" x2="574.75" y2="43.65" stroke="#000" stroke-width="1.15" stroke-linecap="butt"/>
<line x1="572.97" y1="40.58" x2="576.53" y2="42.62" stroke="#000" stroke-width="1.15" stroke-linecap="butt"/>
<line x1="576.53" y1="40.58" x2="572.97" y2="42.62" stroke="#000" stroke-width="1.15" stroke-linecap="butt"/>
<line x1="579.2" y1="39.55" x2="579.2" y2="43.65" stroke="#000" stroke-width="1.15" stroke-linecap="butt"/>
<line x1="577.42" y1="40.58" x2="580.98" y2="42.62" stroke="#000" stroke-width="1.15" stroke-linecap="butt"/>
<line x1="580.98" y1="40.58" x2="577.42" y2="42.62" stroke="#000" stroke-width="1.15" stroke-linecap="butt"/>
<line x1="583.65" y1="39.55" x2="583.65" y2="43.65" stroke="#000" stroke-width="1.15" stroke-linecap="butt"/>
<line x1="581.87" y1="40.58" x2="585.43" y2="42.62" stroke="#000" stroke-width="1.15" stroke-linecap="butt"/>
<line x1="585.43" y1="40.58" x2="581.87" y2="42.62" stroke="#000" stroke-width="1.15" stroke-linecap="butt"/>
<text transform="translate(587.9,62.2) matrix(1,0.0015,0,1,0,0)" font-size="6.9" text-anchor="middle" fill="#000" textLength="6.6" lengthAdjust="spacingAndGlyphs">ns</text>
<text transform="translate(595.8,81.2) matrix(1,0.0015,0,1,0,0)" font-size="6.9" text-anchor="middle" fill="#000" textLength="6.7" lengthAdjust="spacingAndGlyphs">ns</text>
<path d="M553.2,104.1 C553.32,104.75 553.72,105.68 553.9,108 C554.08,110.32 554.03,115.33 554.3,118 C554.57,120.67 555.13,122.17 555.5,124 C555.87,125.83 556.43,127.5 556.5,129 C556.57,130.5 556.13,131.72 555.9,133 C555.67,134.28 555.07,135.37 555.1,136.7 C555.13,138.03 555.65,139.62 556.1,141 C556.55,142.38 557.38,143.72 557.8,145 C558.22,146.28 558.53,147.62 558.6,148.7 C558.67,149.78 558.53,150.53 558.2,151.5 C557.87,152.47 557.12,153.58 556.6,154.5 C556.08,155.42 555.48,156.17 555.1,157 C554.72,157.83 554.52,158.58 554.3,159.5 C554.08,160.42 553.98,161.58 553.8,162.5 C553.62,163.42 553.4,165 553.2,165 C553,165 552.78,163.42 552.6,162.5 C552.42,161.58 552.32,160.42 552.1,159.5 C551.88,158.58 551.68,157.83 551.3,157 C550.92,156.17 550.32,155.42 549.8,154.5 C549.28,153.58 548.53,152.47 548.2,151.5 C547.87,150.53 547.73,149.78 547.8,148.7 C547.87,147.62 548.18,146.28 548.6,145 C549.02,143.72 549.85,142.38 550.3,141 C550.75,139.62 551.27,138.03 551.3,136.7 C551.33,135.37 550.73,134.28 550.5,133 C550.27,131.72 549.83,130.5 549.9,129 C549.97,127.5 550.53,125.83 550.9,124 C551.27,122.17 551.83,120.67 552.1,118 C552.37,115.33 552.32,110.32 552.5,108 C552.68,105.68 553.08,104.75 553.2,104.1Z" fill="#fff" stroke="#0000ff" stroke-width="1.3" stroke-linejoin="round"/>
<path d="M570.3,105.2 C570.43,106 570.83,108.2 571.1,110 C571.37,111.8 571.43,114.17 571.9,116 C572.37,117.83 573.28,119.17 573.9,121 C574.52,122.83 575.33,125.33 575.6,127 C575.87,128.67 575.67,129.5 575.5,131 C575.33,132.5 574.88,134.5 574.6,136 C574.32,137.5 573.97,138.78 573.8,140 C573.63,141.22 573.53,142.22 573.6,143.3 C573.67,144.38 574.2,145.38 574.2,146.5 C574.2,147.62 573.87,148.92 573.6,150 C573.33,151.08 572.92,152.08 572.6,153 C572.28,153.92 571.95,154.67 571.7,155.5 C571.45,156.33 571.25,157.08 571.1,158 C570.95,158.92 570.93,160.17 570.8,161 C570.67,161.83 570.47,163 570.3,163 C570.13,163 569.93,161.83 569.8,161 C569.67,160.17 569.65,158.92 569.5,158 C569.35,157.08 569.15,156.33 568.9,155.5 C568.65,154.67 568.32,153.92 568,153 C567.68,152.08 567.27,151.08 567,150 C566.73,148.92 566.4,147.62 566.4,146.5 C566.4,145.38 566.93,144.38 567,143.3 C567.07,142.22 566.97,141.22 566.8,140 C566.63,138.78 566.28,137.5 566,136 C565.72,134.5 565.27,132.5 565.1,131 C564.93,129.5 564.73,128.67 565,127 C565.27,125.33 566.08,122.83 566.7,121 C567.32,119.17 568.23,117.83 568.7,116 C569.17,114.17 569.23,111.8 569.5,110 C569.77,108.2 570.17,106 570.3,105.2Z" fill="#fff" stroke="#20ff0a" stroke-width="1.3" stroke-linejoin="round"/>
<path d="M587.3,97.6 C587.4,98.67 587.72,101.65 587.9,104 C588.08,106.35 588.1,109.37 588.4,111.7 C588.7,114.03 589.28,115.95 589.7,118 C590.12,120.05 590.62,122.25 590.9,124 C591.18,125.75 591.35,127 591.4,128.5 C591.45,130 591.4,131.42 591.2,133 C591,134.58 590.48,136.33 590.2,138 C589.92,139.67 589.58,141.5 589.5,143 C589.42,144.5 589.65,145.75 589.7,147 C589.75,148.25 589.88,149.33 589.8,150.5 C589.72,151.67 589.43,152.88 589.2,154 C588.97,155.12 588.72,156.08 588.4,157.2 C588.08,158.32 587.67,160.7 587.3,160.7 C586.93,160.7 586.52,158.32 586.2,157.2 C585.88,156.08 585.63,155.12 585.4,154 C585.17,152.88 584.88,151.67 584.8,150.5 C584.72,149.33 584.85,148.25 584.9,147 C584.95,145.75 585.18,144.5 585.1,143 C585.02,141.5 584.68,139.67 584.4,138 C584.12,136.33 583.6,134.58 583.4,133 C583.2,131.42 583.15,130 583.2,128.5 C583.25,127 583.42,125.75 583.7,124 C583.98,122.25 584.48,120.05 584.9,118 C585.32,115.95 585.9,114.03 586.2,111.7 C586.5,109.37 586.52,106.35 586.7,104 C586.88,101.65 587.2,98.67 587.3,97.6Z" fill="#fff" stroke="#ff00ff" stroke-width="1.3" stroke-linejoin="round"/>
<path d="M604.7,98.3 C604.82,99.25 605.18,101.93 605.4,104 C605.62,106.07 605.62,108.37 606,110.7 C606.38,113.03 607.17,115.78 607.7,118 C608.23,120.22 608.87,122.15 609.2,124 C609.53,125.85 609.73,127.43 609.7,129.1 C609.67,130.77 609.33,132.35 609,134 C608.67,135.65 608,137.45 607.7,139 C607.4,140.55 607.25,141.68 607.2,143.3 C607.15,144.92 607.47,147.08 607.4,148.7 C607.33,150.32 607.05,151.78 606.8,153 C606.55,154.22 606.1,155.08 605.9,156 C605.7,156.92 605.8,157.72 605.6,158.5 C605.4,159.28 605,160.7 604.7,160.7 C604.4,160.7 604,159.28 603.8,158.5 C603.6,157.72 603.7,156.92 603.5,156 C603.3,155.08 602.85,154.22 602.6,153 C602.35,151.78 602.07,150.32 602,148.7 C601.93,147.08 602.25,144.92 602.2,143.3 C602.15,141.68 602,140.55 601.7,139 C601.4,137.45 600.73,135.65 600.4,134 C600.07,132.35 599.73,130.77 599.7,129.1 C599.67,127.43 599.87,125.85 600.2,124 C600.53,122.15 601.17,120.22 601.7,118 C602.23,115.78 603.02,113.03 603.4,110.7 C603.78,108.37 603.78,106.07 604,104 C604.22,101.93 604.58,99.25 604.7,98.3Z" fill="#fff" stroke="#000000" stroke-width="1.3" stroke-linejoin="round"/>
<line x1="550.6" y1="130.9" x2="555.8" y2="130.9" stroke="#8888ff" stroke-width="0.6"/>
<line x1="548.6" y1="147.4" x2="557.8" y2="147.4" stroke="#000" stroke-width="0.6"/>
<line x1="548.6" y1="150.2" x2="557.8" y2="150.2" stroke="#8888ff" stroke-width="0.6"/>
<line x1="565.7" y1="127.4" x2="574.9" y2="127.4" stroke="#88ff88" stroke-width="0.6"/>
<line x1="566.5" y1="135.2" x2="574.1" y2="135.2" stroke="#000" stroke-width="0.6"/>
<line x1="567.1" y1="146.1" x2="573.5" y2="146.1" stroke="#88ff88" stroke-width="0.6"/>
<line x1="584.1" y1="124.8" x2="590.5" y2="124.8" stroke="#ff88ff" stroke-width="0.6"/>
<line x1="583.9" y1="132.4" x2="590.7" y2="132.4" stroke="#000" stroke-width="0.6"/>
<line x1="585.5" y1="142.8" x2="589.1" y2="142.8" stroke="#ff88ff" stroke-width="0.6"/>
<line x1="600.7" y1="126.3" x2="608.7" y2="126.3" stroke="#000" stroke-width="0.6"/>
<line x1="601.1" y1="134.3" x2="608.3" y2="134.3" stroke="#555" stroke-width="0.6"/>
<line x1="602.7" y1="144.3" x2="606.7" y2="144.3" stroke="#000" stroke-width="0.6"/>
<rect x="628" y="147.6" width="17.9" height="11.3" fill="#0000ff"/>
<text transform="translate(654.2,157.8) matrix(1,0.0015,0,1,0,0)" font-size="13.2" text-anchor="start" fill="#000" textLength="28.1" lengthAdjust="spacingAndGlyphs">Asian</text>
<rect x="628" y="170.4" width="17.9" height="11.3" fill="#20ff0a"/>
<text transform="translate(654.2,180.6) matrix(1,0.0015,0,1,0,0)" font-size="13.2" text-anchor="start" fill="#000" textLength="27.8" lengthAdjust="spacingAndGlyphs">Black</text>
<rect x="628" y="193.2" width="17.9" height="11.3" fill="#ff00ff"/>
<text transform="translate(654.2,203.4) matrix(1,0.0015,0,1,0,0)" font-size="13.2" text-anchor="start" fill="#000" textLength="28.8" lengthAdjust="spacingAndGlyphs">White</text>
<rect x="628" y="216" width="17.9" height="11.3" fill="#000000"/>
<text transform="translate(654.2,226.2) matrix(1,0.0015,0,1,0,0)" font-size="13.2" text-anchor="start" fill="#000" textLength="29.5" lengthAdjust="spacingAndGlyphs">BLCA</text>
<text transform="translate(399.3,223.6) scale(0.95,1)" font-size="20.2" stroke="#000" stroke-width="0.35">D</text>
<text transform="translate(456.1,220.4) matrix(1,0.0015,0,1,0,0)" font-size="9.5" font-weight="bold" text-anchor="start" fill="#000" textLength="40.8" lengthAdjust="spacingAndGlyphs" class="t">MSI MANTIS</text>
<text transform="translate(557.8,220.4) matrix(1,0.0015,0,1,0,0)" font-size="9.5" font-weight="bold" text-anchor="start" fill="#000" textLength="37.2" lengthAdjust="spacingAndGlyphs" class="t">MSIsensor</text>
<line x1="438.5" y1="230.8" x2="438.5" y2="327.4" stroke="#000" stroke-width="0.8"/>
<line x1="435.8" y1="231.5" x2="438.5" y2="231.5" stroke="#000" stroke-width="0.8"/>
<text transform="translate(434.9,233.5) matrix(1,0.0015,0,1,0,0)" font-size="5.6" font-weight="bold" text-anchor="end" fill="#000">0.5</text>
<line x1="435.8" y1="250.6" x2="438.5" y2="250.6" stroke="#000" stroke-width="0.8"/>
<text transform="translate(434.9,252.6) matrix(1,0.0015,0,1,0,0)" font-size="5.6" font-weight="bold" text-anchor="end" fill="#000">0.4</text>
<line x1="435.8" y1="269.7" x2="438.5" y2="269.7" stroke="#000" stroke-width="0.8"/>
<text transform="translate(434.9,271.7) matrix(1,0.0015,0,1,0,0)" font-size="5.6" font-weight="bold" text-anchor="end" fill="#000">0.3</text>
<line x1="435.8" y1="288.8" x2="438.5" y2="288.8" stroke="#000" stroke-width="0.8"/>
<text transform="translate(434.9,290.8) matrix(1,0.0015,0,1,0,0)" font-size="5.6" font-weight="bold" text-anchor="end" fill="#000">0.2</text>
<line x1="435.8" y1="307.9" x2="438.5" y2="307.9" stroke="#000" stroke-width="0.8"/>
<text transform="translate(434.9,309.9) matrix(1,0.0015,0,1,0,0)" font-size="5.6" font-weight="bold" text-anchor="end" fill="#000">0.1</text>
<line x1="435.8" y1="327" x2="438.5" y2="327" stroke="#000" stroke-width="0.8"/>
<text transform="translate(434.9,329) matrix(1,0.0015,0,1,0,0)" font-size="5.6" font-weight="bold" text-anchor="end" fill="#000">0.0</text>
<text transform="translate(420.8,279) rotate(-90)" x="0" y="2.59" font-size="7.2" font-weight="bold" text-anchor="middle" textLength="36" lengthAdjust="spacingAndGlyphs" class="r">MSI Score</text>
<line x1="438.1" y1="327" x2="513.6" y2="327" stroke="#000" stroke-width="0.8"/>
<line x1="450.5" y1="327" x2="450.5" y2="330.2" stroke="#000" stroke-width="0.8"/>
<line x1="467.2" y1="327" x2="467.2" y2="330.2" stroke="#000" stroke-width="0.8"/>
<line x1="484.7" y1="327" x2="484.7" y2="330.2" stroke="#000" stroke-width="0.8"/>
<line x1="502" y1="327" x2="502" y2="330.2" stroke="#000" stroke-width="0.8"/>
<text transform="translate(450.35,338.7) matrix(1,0.0015,0,1,0,0)" font-size="6.3" font-weight="bold" text-anchor="middle" fill="#000" textLength="14.9" lengthAdjust="spacingAndGlyphs">Asian</text>
<text transform="translate(467.55,338.7) matrix(1,0.0015,0,1,0,0)" font-size="6.3" font-weight="bold" text-anchor="middle" fill="#000" textLength="15.5" lengthAdjust="spacingAndGlyphs">Black</text>
<text transform="translate(485.05,338.7) matrix(1,0.0015,0,1,0,0)" font-size="6.3" font-weight="bold" text-anchor="middle" fill="#000" textLength="15.5" lengthAdjust="spacingAndGlyphs">White</text>
<text transform="translate(502.3,338.7) matrix(1,0.0015,0,1,0,0)" font-size="6.3" font-weight="bold" text-anchor="middle" fill="#000" textLength="15" lengthAdjust="spacingAndGlyphs">BLCA</text>
<line x1="537" y1="230.2" x2="537" y2="326.7" stroke="#000" stroke-width="0.8"/>
<line x1="534.3" y1="231.9" x2="537" y2="231.9" stroke="#000" stroke-width="0.8"/>
<text transform="translate(533.2,233.9) matrix(1,0.0015,0,1,0,0)" font-size="5.6" font-weight="bold" text-anchor="end" fill="#000">8</text>
<line x1="534.3" y1="255.5" x2="537" y2="255.5" stroke="#000" stroke-width="0.8"/>
<text transform="translate(533.2,257.5) matrix(1,0.0015,0,1,0,0)" font-size="5.6" font-weight="bold" text-anchor="end" fill="#000">6</text>
<line x1="534.3" y1="279.1" x2="537" y2="279.1" stroke="#000" stroke-width="0.8"/>
<text transform="translate(533.2,281.1) matrix(1,0.0015,0,1,0,0)" font-size="5.6" font-weight="bold" text-anchor="end" fill="#000">4</text>
<line x1="534.3" y1="302.7" x2="537" y2="302.7" stroke="#000" stroke-width="0.8"/>
<text transform="translate(533.2,304.7) matrix(1,0.0015,0,1,0,0)" font-size="5.6" font-weight="bold" text-anchor="end" fill="#000">2</text>
<line x1="534.3" y1="326.3" x2="537" y2="326.3" stroke="#000" stroke-width="0.8"/>
<text transform="translate(533.2,328.3) matrix(1,0.0015,0,1,0,0)" font-size="5.6" font-weight="bold" text-anchor="end" fill="#000">0</text>
<text transform="translate(524.4,270.6) rotate(-90)" x="0" y="2.59" font-size="7.2" font-weight="bold" text-anchor="middle" textLength="36" lengthAdjust="spacingAndGlyphs" class="r">MSI Score</text>
<line x1="536.6" y1="326.3" x2="614.5" y2="326.3" stroke="#000" stroke-width="0.8"/>
<line x1="549.2" y1="326.3" x2="549.2" y2="329.5" stroke="#000" stroke-width="0.8"/>
<line x1="567.1" y1="326.3" x2="567.1" y2="329.5" stroke="#000" stroke-width="0.8"/>
<line x1="584.6" y1="326.3" x2="584.6" y2="329.5" stroke="#000" stroke-width="0.8"/>
<line x1="603.1" y1="326.3" x2="603.1" y2="329.5" stroke="#000" stroke-width="0.8"/>
<text transform="translate(549.5,338.3) matrix(1,0.0015,0,1,0,0)" font-size="6.3" font-weight="bold" text-anchor="middle" fill="#000" textLength="15.4" lengthAdjust="spacingAndGlyphs">Asian</text>
<text transform="translate(567.55,338.3) matrix(1,0.0015,0,1,0,0)" font-size="6.3" font-weight="bold" text-anchor="middle" fill="#000" textLength="15.5" lengthAdjust="spacingAndGlyphs">Black</text>
<text transform="translate(585.2,338.3) matrix(1,0.0015,0,1,0,0)" font-size="6.3" font-weight="bold" text-anchor="middle" fill="#000" textLength="15.8" lengthAdjust="spacingAndGlyphs">White</text>
<text transform="translate(602.85,338.3) matrix(1,0.0015,0,1,0,0)" font-size="6.3" font-weight="bold" text-anchor="middle" fill="#000" textLength="16.1" lengthAdjust="spacingAndGlyphs">BLCA</text>
<path d="M450.7,257.6 L451.2,259 L451.9,260.5 L454,261.8 L455,263 L454.4,264.2 L453.3,265.5 L452.7,267 L451.9,269 L451.6,271 L451.3,273.5 L450.7,275 L450.3,275 L449.7,273.5 L449.4,271 L449.1,269 L448.3,267 L447.7,265.5 L446.6,264.2 L446,263 L447,261.8 L449.1,260.5 L449.8,259 L450.3,257.6Z" fill="#0000ff" stroke="#0000ff" stroke-width="1.6" stroke-linejoin="round"/>
<path d="M463.2,262.2 L466.5,260.8 L469.5,259.6 L471.6,260.6 L472.4,262.6 L471.2,264.6 L468.6,265.8 L467.2,267.0 L465.8,265.8 L463.0,264.8 Z" fill="#20ff0a" stroke="#20ff0a" stroke-width="1.6" stroke-linejoin="round"/>
<circle cx="464.2" cy="258.3" r="1.15" fill="#20ff0a"/>
<circle cx="467.1" cy="256.9" r="1.15" fill="#20ff0a"/>
<circle cx="470.8" cy="260.1" r="1.15" fill="#20ff0a"/>
<circle cx="472.2" cy="263.3" r="1.15" fill="#20ff0a"/>
<circle cx="462.6" cy="263.3" r="1.15" fill="#20ff0a"/>
<circle cx="470" cy="265.2" r="1.15" fill="#20ff0a"/>
<circle cx="467" cy="269.3" r="1.15" fill="#20ff0a"/>
<circle cx="466.2" cy="268" r="1.15" fill="#20ff0a"/>
<circle cx="468.1" cy="280.8" r="1.15" fill="#20ff0a"/>
<circle cx="467.1" cy="283.2" r="1.15" fill="#20ff0a"/>
<path d="M484.9,256.4 L485.5,258 L486.5,260 L488.3,261.8 L489.7,263.2 L489.5,265.2 L488.3,266.5 L487.3,268.2 L486,271.5 L485.5,274 L485,277 L484.4,277 L483.9,274 L483.4,271.5 L482.1,268.2 L481.1,266.5 L479.9,265.2 L479.7,263.2 L481.1,261.8 L482.9,260 L483.9,258 L484.5,256.4Z" fill="#ff00ff" stroke="#ff00ff" stroke-width="1.6" stroke-linejoin="round"/>
<circle cx="481.6" cy="261.3" r="1.05" fill="#ff00ff"/>
<circle cx="482.17" cy="268.84" r="1.05" fill="#ff00ff"/>
<circle cx="485.22" cy="275.12" r="1.05" fill="#ff00ff"/>
<circle cx="487.86" cy="261.23" r="1.05" fill="#ff00ff"/>
<circle cx="487.79" cy="267.72" r="1.05" fill="#ff00ff"/>
<circle cx="482.75" cy="259.5" r="1.05" fill="#ff00ff"/>
<circle cx="481.26" cy="267.18" r="1.05" fill="#ff00ff"/>
<circle cx="484.06" cy="257.72" r="1.05" fill="#ff00ff"/>
<circle cx="485.22" cy="257.04" r="1.05" fill="#ff00ff"/>
<circle cx="486.39" cy="271.21" r="1.05" fill="#ff00ff"/>
<circle cx="485.55" cy="275.37" r="1.05" fill="#ff00ff"/>
<circle cx="481.73" cy="268.28" r="1.05" fill="#ff00ff"/>
<circle cx="483.6" cy="258.41" r="1.05" fill="#ff00ff"/>
<circle cx="488.54" cy="261.71" r="1.05" fill="#ff00ff"/>
<circle cx="484.7" cy="247.6" r="1.1" fill="#ff00ff"/>
<circle cx="484.7" cy="250.3" r="1.1" fill="#ff00ff"/>
<circle cx="484.7" cy="280.2" r="1.1" fill="#ff00ff"/>
<circle cx="484.7" cy="282.8" r="1.1" fill="#ff00ff"/>
<circle cx="484.7" cy="285.4" r="1.1" fill="#ff00ff"/>
<circle cx="484.7" cy="288" r="1.1" fill="#ff00ff"/>
<path d="M502.2,256 L502.9,258 L503.8,260 L505.6,261.8 L507,263.2 L506.9,265.5 L505.6,266.8 L504.6,268.4 L503.4,271.5 L502.8,274.5 L502.3,277.5 L501.7,277.5 L501.2,274.5 L500.6,271.5 L499.4,268.4 L498.4,266.8 L497.1,265.5 L497,263.2 L498.4,261.8 L500.2,260 L501.1,258 L501.8,256Z" fill="#000000" stroke="#000000" stroke-width="1.6" stroke-linejoin="round"/>
<circle cx="502.93" cy="274.39" r="1.05" fill="#000000"/>
<circle cx="507.08" cy="264.3" r="1.05" fill="#000000"/>
<circle cx="496.64" cy="264.76" r="1.05" fill="#000000"/>
<circle cx="499.89" cy="270.66" r="1.05" fill="#000000"/>
<circle cx="501.41" cy="277.31" r="1.05" fill="#000000"/>
<circle cx="496.91" cy="263.02" r="1.05" fill="#000000"/>
<circle cx="504.27" cy="260.54" r="1.05" fill="#000000"/>
<circle cx="502.45" cy="257.36" r="1.05" fill="#000000"/>
<circle cx="503.48" cy="273.21" r="1.05" fill="#000000"/>
<circle cx="502.67" cy="256.43" r="1.05" fill="#000000"/>
<circle cx="501.06" cy="274.76" r="1.05" fill="#000000"/>
<circle cx="503.5" cy="272.38" r="1.05" fill="#000000"/>
<circle cx="507.02" cy="263.12" r="1.05" fill="#000000"/>
<circle cx="502.01" cy="277.47" r="1.05" fill="#000000"/>
<circle cx="502" cy="247.4" r="1.1" fill="#000000"/>
<circle cx="502" cy="250" r="1.1" fill="#000000"/>
<circle cx="502" cy="280.5" r="1.1" fill="#000000"/>
<circle cx="502" cy="283" r="1.1" fill="#000000"/>
<circle cx="502" cy="285.6" r="1.1" fill="#000000"/>
<circle cx="502" cy="288.6" r="1.1" fill="#000000"/>
<path d="M549.4,319.8 L549.8,321 L550.1,322.6 L553.7,323.6 L553.8,326.5 L544.6,326.5 L544.7,323.6 L548.3,322.6 L548.6,321 L549,319.8Z" fill="#0000ff" stroke="#0000ff" stroke-width="1.6" stroke-linejoin="round"/>
<circle cx="544.7" cy="322.89" r="1" fill="#0000ff"/>
<circle cx="546.2" cy="323.23" r="1" fill="#0000ff"/>
<circle cx="547.7" cy="323.56" r="1" fill="#0000ff"/>
<circle cx="549.2" cy="323.58" r="1" fill="#0000ff"/>
<circle cx="550.7" cy="323.03" r="1" fill="#0000ff"/>
<circle cx="552.2" cy="323.01" r="1" fill="#0000ff"/>
<circle cx="553.7" cy="323.35" r="1" fill="#0000ff"/>
<circle cx="549.2" cy="304.4" r="1.05" fill="#0000ff"/>
<path d="M568.1,322.4 L571.9,323.9 L572,326.5 L562.2,326.5 L562.3,323.9 L566.1,322.4Z" fill="#20ff0a" stroke="#20ff0a" stroke-width="1.6" stroke-linejoin="round"/>
<circle cx="562.5" cy="323.98" r="1" fill="#20ff0a"/>
<circle cx="564.03" cy="323.47" r="1" fill="#20ff0a"/>
<circle cx="565.57" cy="323.49" r="1" fill="#20ff0a"/>
<circle cx="567.1" cy="323.31" r="1" fill="#20ff0a"/>
<circle cx="568.63" cy="323.89" r="1" fill="#20ff0a"/>
<circle cx="570.17" cy="323.5" r="1" fill="#20ff0a"/>
<circle cx="571.7" cy="323.9" r="1" fill="#20ff0a"/>
<circle cx="567.4" cy="314.6" r="1.05" fill="#20ff0a"/>
<circle cx="567.4" cy="316.6" r="1.05" fill="#20ff0a"/>
<circle cx="567.4" cy="318.6" r="1.05" fill="#20ff0a"/>
<circle cx="566.2" cy="320.8" r="1.05" fill="#20ff0a"/>
<circle cx="568.6" cy="320.8" r="1.05" fill="#20ff0a"/>
<circle cx="567.3" cy="234.3" r="1.05" fill="#20ff0a"/>
<circle cx="567.3" cy="267.7" r="1.05" fill="#20ff0a"/>
<path d="M584.9,308.2 L585.05,320 L585.9,322.2 L589.5,323.4 L589.5,326.5 L579.7,326.5 L579.7,323.4 L583.3,322.2 L584.15,320 L584.3,308.2Z" fill="#ff00ff" stroke="#ff00ff" stroke-width="1.6" stroke-linejoin="round"/>
<circle cx="579.8" cy="323.01" r="1" fill="#ff00ff"/>
<circle cx="581.4" cy="323.39" r="1" fill="#ff00ff"/>
<circle cx="583" cy="323.24" r="1" fill="#ff00ff"/>
<circle cx="584.6" cy="322.78" r="1" fill="#ff00ff"/>
<circle cx="586.2" cy="323.48" r="1" fill="#ff00ff"/>
<circle cx="587.8" cy="323.35" r="1" fill="#ff00ff"/>
<circle cx="589.4" cy="322.92" r="1" fill="#ff00ff"/>
<path d="M603.4,307.8 L603.6,319 L604.5,322 L607.8,323.4 L607.8,326.5 L598.4,326.5 L598.4,323.4 L601.7,322 L602.6,319 L602.8,307.8Z" fill="#000000" stroke="#000000" stroke-width="1.6" stroke-linejoin="round"/>
<circle cx="598.5" cy="323.21" r="1" fill="#000000"/>
<circle cx="600.03" cy="323.27" r="1" fill="#000000"/>
<circle cx="601.57" cy="323.45" r="1" fill="#000000"/>
<circle cx="603.1" cy="323.05" r="1" fill="#000000"/>
<circle cx="604.63" cy="322.91" r="1" fill="#000000"/>
<circle cx="606.17" cy="322.94" r="1" fill="#000000"/>
<circle cx="607.7" cy="322.97" r="1" fill="#000000"/>
<circle cx="602.9" cy="304.1" r="1.05" fill="#000000"/>
<circle cx="602.9" cy="234.3" r="1.05" fill="#000000"/>
<circle cx="602.9" cy="267.7" r="1.05" fill="#000000"/>
</svg>
</body></html>
